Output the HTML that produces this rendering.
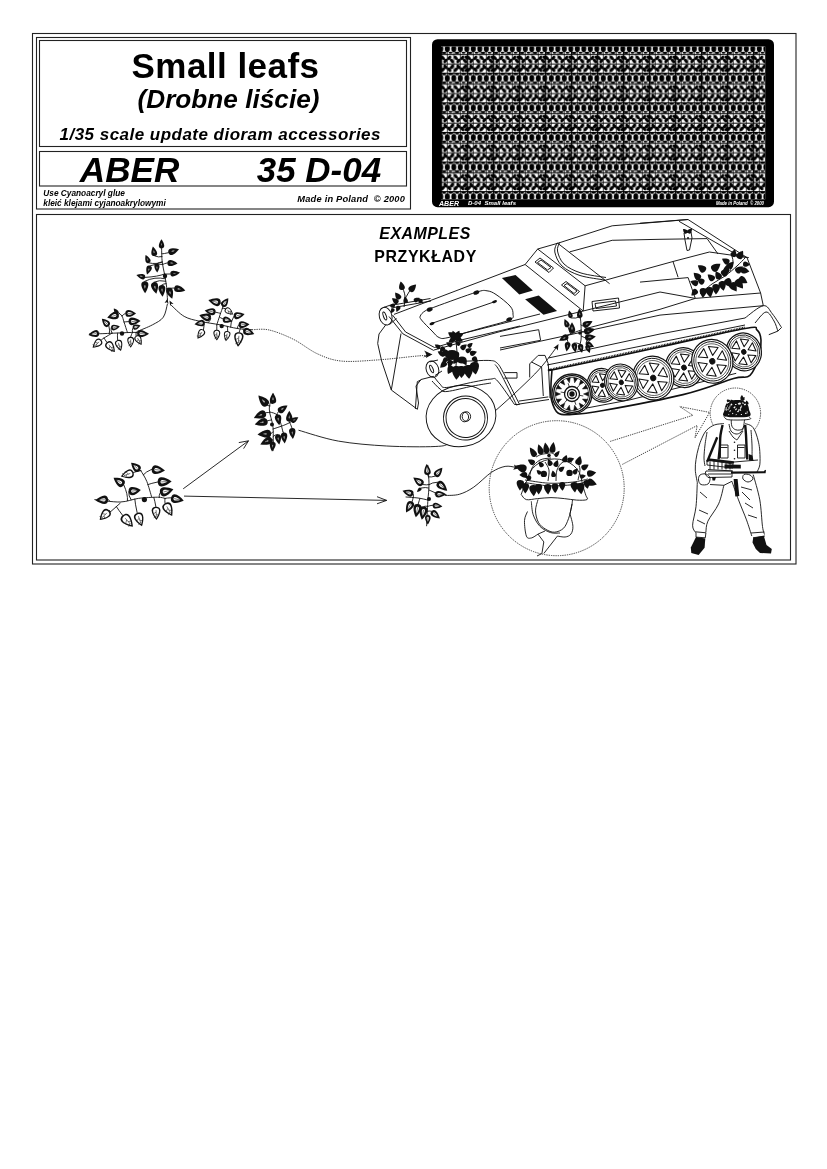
<!DOCTYPE html>
<html><head><meta charset="utf-8">
<style>
html,body{margin:0;padding:0;background:#fff;}
body{width:827px;height:1169px;overflow:hidden;position:relative;}
svg{position:absolute;left:0;top:0;filter:grayscale(1);}
text{font-family:"Liberation Sans",sans-serif;font-weight:bold;}
</style></head>
<body>
<svg width="827" height="1169" viewBox="0 0 827 1169">
<defs>
<pattern id="fp" patternUnits="userSpaceOnUse" x="440.8" y="43.1" width="26" height="29.6">
<g fill="#000">
<rect x="0" y="0" width="26" height="1.1"/>
<rect x="0" y="11" width="26" height="1"/>
<rect x="0" y="20.4" width="26" height="1"/>
<rect x="0" y="0" width="1.3" height="29.6"/>
<rect x="6.15" y="0" width="0.7" height="29.6"/>
<rect x="12.65" y="0" width="0.7" height="29.6"/>
<rect x="19.15" y="0" width="0.7" height="29.6"/>
<ellipse cx="0" cy="5.6" rx="2.55" ry="3.3"/>
<ellipse cx="6.5" cy="5.6" rx="2.55" ry="3.3"/>
<ellipse cx="13" cy="5.6" rx="2.55" ry="3.3"/>
<ellipse cx="19.5" cy="5.6" rx="2.55" ry="3.3"/>
<ellipse cx="26" cy="5.6" rx="2.55" ry="3.3"/>
<ellipse cx="3.25" cy="9.8" rx="2.5" ry="1.1"/>
<ellipse cx="16.25" cy="9.8" rx="2.5" ry="1.1"/>
<ellipse cx="9.75" cy="1.5" rx="2.4" ry="1.1"/>
<ellipse cx="22.75" cy="1.5" rx="2.4" ry="1.1"/>
<ellipse cx="2.00" cy="14.80" rx="1.6" ry="2.6" transform="rotate(-40 2.00 14.80)"/>
<ellipse cx="4.60" cy="17.80" rx="1.6" ry="2.6" transform="rotate(40 4.60 17.80)"/>
<ellipse cx="2.00" cy="26.60" rx="1.6" ry="2.6" transform="rotate(40 2.00 26.60)"/>
<ellipse cx="4.60" cy="23.80" rx="1.6" ry="2.6" transform="rotate(-40 4.60 23.80)"/>
<ellipse cx="8.50" cy="14.80" rx="1.6" ry="2.6" transform="rotate(40 8.50 14.80)"/>
<ellipse cx="11.10" cy="17.80" rx="1.6" ry="2.6" transform="rotate(-40 11.10 17.80)"/>
<ellipse cx="8.50" cy="26.60" rx="1.6" ry="2.6" transform="rotate(-40 8.50 26.60)"/>
<ellipse cx="11.10" cy="23.80" rx="1.6" ry="2.6" transform="rotate(40 11.10 23.80)"/>
<ellipse cx="15.00" cy="14.80" rx="1.6" ry="2.6" transform="rotate(-40 15.00 14.80)"/>
<ellipse cx="17.60" cy="17.80" rx="1.6" ry="2.6" transform="rotate(40 17.60 17.80)"/>
<ellipse cx="15.00" cy="26.60" rx="1.6" ry="2.6" transform="rotate(40 15.00 26.60)"/>
<ellipse cx="17.60" cy="23.80" rx="1.6" ry="2.6" transform="rotate(-40 17.60 23.80)"/>
<ellipse cx="21.50" cy="14.80" rx="1.6" ry="2.6" transform="rotate(40 21.50 14.80)"/>
<ellipse cx="24.10" cy="17.80" rx="1.6" ry="2.6" transform="rotate(-40 24.10 17.80)"/>
<ellipse cx="21.50" cy="26.60" rx="1.6" ry="2.6" transform="rotate(-40 21.50 26.60)"/>
<ellipse cx="24.10" cy="23.80" rx="1.6" ry="2.6" transform="rotate(40 24.10 23.80)"/>
<ellipse cx="26.00" cy="14.80" rx="1.6" ry="2.6" transform="rotate(-40 26.00 14.80)"/>
<ellipse cx="26.00" cy="26.60" rx="1.6" ry="2.6" transform="rotate(40 26.00 26.60)"/>
<ellipse cx="3.25" cy="1.7" rx="2.0" ry="1.0"/><ellipse cx="16.25" cy="1.7" rx="2.0" ry="1.0"/><ellipse cx="9.75" cy="9.7" rx="2.0" ry="1.0"/><ellipse cx="22.75" cy="9.7" rx="2.0" ry="1.0"/></g>
</pattern>
</defs>
<!-- frames -->
<g fill="none" stroke="#222" stroke-width="1.1">
<rect x="32.5" y="33.5" width="763.5" height="530.5"/>
<rect x="36.5" y="37.5" width="374" height="171.5"/>
<rect x="39.5" y="40.5" width="367" height="106"/>
<rect x="39.5" y="151.5" width="367" height="34.5"/>
<rect x="36.5" y="214.5" width="754" height="345.5"/>
</g>
<!-- title texts -->
<text x="131.5" y="77.6" font-size="35" textLength="187.5" lengthAdjust="spacing">Small leafs</text>
<text x="137.5" y="107.9" font-size="26.3" font-style="italic" textLength="182" lengthAdjust="spacingAndGlyphs">(Drobne liście)</text>
<text x="59.5" y="140.4" font-size="17" font-style="italic" textLength="321" lengthAdjust="spacing">1/35 scale update dioram accessories</text>
<text x="79.8" y="182.2" font-size="35.5" font-style="italic" textLength="99.5" lengthAdjust="spacingAndGlyphs">ABER</text>
<text x="256.8" y="182.2" font-size="35.5" font-style="italic" textLength="124.3" lengthAdjust="spacingAndGlyphs">35 D-04</text>
<text x="43.3" y="196.1" font-size="8.3" font-style="italic" textLength="81.6" lengthAdjust="spacingAndGlyphs">Use Cyanoacryl glue</text>
<text x="43.3" y="205.6" font-size="8.3" font-style="italic" textLength="122.4" lengthAdjust="spacingAndGlyphs">kleić klejami cyjanoakrylowymi</text>
<text x="297.3" y="201.6" font-size="9.3" font-style="italic" textLength="107.6" lengthAdjust="spacing">Made in Poland&#160; © 2000</text>
<text x="379.3" y="238.6" font-size="15.9" font-style="italic" textLength="91" lengthAdjust="spacing">EXAMPLES</text>
<text x="374.3" y="261.6" font-size="15.9" textLength="102" lengthAdjust="spacing">PRZYKŁADY</text>
<!-- fret -->
<g id="fret">
<rect x="432" y="39.2" width="342" height="168" rx="5.5" fill="#000"/>
<rect x="441" y="46.5" width="324.2" height="152.8" fill="#fff"/>
<rect x="441" y="46.5" width="324.2" height="152.8" fill="url(#fp)"/>
<text x="439" y="205.6" font-size="8" font-style="italic" fill="#fff" textLength="20" lengthAdjust="spacingAndGlyphs">ABER</text>
<text x="468" y="205.4" font-size="6" font-style="italic" fill="#fff" textLength="48" lengthAdjust="spacingAndGlyphs">D-04&#160; Small leafs</text>
<text x="716" y="205" font-size="5" font-style="italic" fill="#fff" textLength="48" lengthAdjust="spacingAndGlyphs">Made in Poland&#160; © 2000</text>
</g>
<!--ILLU-->
<g fill="none" stroke="#111" stroke-width="0.9" stroke-linecap="round"><path d="M161.6,248.5C161.7,250.8 161.7,257.8 162.2,262.0C162.7,266.2 163.8,270.0 164.5,274.0C165.2,278.0 166.0,281.7 166.5,286.0C167.0,290.3 167.3,297.7 167.5,300.0"/><path d="M161.8,253.9Q164.0,253.7 168.4,252.7"/><path d="M162.0,256.6Q158.6,257.6 154.8,256.0"/><path d="M162.2,262.0Q156.6,264.6 149.0,262.9"/><path d="M162.7,264.4Q164.1,263.6 167.4,262.9"/><path d="M162.7,264.4Q157.1,262.9 150.0,265.8"/><path d="M162.2,262.0Q159.5,261.9 156.8,263.8"/><path d="M164.5,274.0Q166.4,274.1 170.3,274.0"/><path d="M164.5,274.0Q158.2,276.6 145.1,277.4"/><path d="M165.3,278.8Q154.9,276.3 144.7,281.3"/><path d="M165.7,281.2Q159.3,279.6 153.8,282.2"/><path d="M166.1,283.6Q163.8,283.5 161.6,285.1"/><path d="M166.7,288.8Q167.4,288.1 168.4,288.0"/><path d="M166.7,288.8Q169.1,288.1 174.2,288.0"/><path d="M89.4,334.0C91.8,333.9 99.3,333.8 104.0,333.6C108.7,333.4 112.2,333.2 117.6,333.0C122.9,332.8 131.0,332.3 136.1,332.4C141.2,332.5 146.1,333.3 148.1,333.5"/><path d="M127.4,332.4C126.8,330.7 124.9,324.7 124.0,322.0C123.1,319.3 122.9,317.5 122.0,316.0C121.1,314.5 119.2,313.3 118.7,312.8"/><path d="M137.0,331.5C139.6,330.4 148.1,327.2 152.5,324.8C156.9,322.4 160.8,320.7 163.3,317.2C165.8,313.7 166.7,306.2 167.4,304.0"/><path d="M112.0,333.2C110.7,334.0 105.8,336.9 104.0,338.0C102.2,339.1 101.8,339.7 101.3,340.0"/><path d="M98.2,333.8Q98.8,333.3 99.0,333.0"/><path d="M104.0,338.0Q104.8,339.4 106.8,342.2"/><path d="M117.6,333.0Q117.2,335.3 117.6,340.0"/><path d="M132.4,332.5Q131.6,333.8 130.7,336.8"/><path d="M136.1,332.4Q135.8,333.5 136.1,335.7"/><path d="M136.1,332.4Q136.4,332.9 137.2,333.5"/><path d="M109.4,333.4Q110.1,330.6 108.9,326.0"/><path d="M112.0,333.2Q110.6,330.8 111.1,328.0"/><path d="M119.4,313.4Q119.2,313.9 118.7,314.5"/><path d="M118.7,312.8Q118.3,313.3 117.6,313.4"/><path d="M122.0,316.0Q122.9,314.7 125.3,313.4"/><path d="M124.0,322.0Q125.4,321.8 128.5,321.6"/><path d="M132.4,332.5Q131.9,330.5 132.9,328.0"/><path d="M171.0,305.0C173.2,306.9 179.4,313.7 184.2,316.4C189.0,319.1 193.8,319.9 199.9,321.3C206.0,322.7 214.2,323.7 220.5,324.9C226.8,326.1 232.2,327.7 237.4,328.5C242.6,329.3 249.5,329.5 251.9,329.7"/><path d="M216.8,324.9C217.3,323.2 219.0,318.0 220.0,315.0C221.0,312.0 222.2,309.0 222.9,306.8C223.6,304.6 223.9,302.8 224.1,302.0"/><path d="M223.6,303.9Q222.6,303.6 220.5,303.1"/><path d="M222.9,306.8Q222.5,306.6 222.3,306.2"/><path d="M220.6,313.4Q219.0,312.9 215.6,312.2"/><path d="M222.3,308.4Q223.4,308.2 225.3,308.6"/><path d="M230.6,327.1Q230.3,322.2 233.8,316.4"/><path d="M208.1,322.7Q210.4,320.8 210.8,318.3"/><path d="M219.4,317.0Q220.4,317.8 222.9,318.9"/><path d="M204.0,322.0Q204.5,322.2 204.7,322.5"/><path d="M237.4,328.5Q237.3,326.7 238.6,324.9"/><path d="M243.2,329.0Q243.1,329.6 243.4,330.3"/><path d="M204.0,322.0Q204.5,324.7 203.5,329.7"/><path d="M216.8,324.9Q216.8,326.4 216.8,329.7"/><path d="M227.3,326.3Q227.6,327.8 227.7,331.0"/><path d="M240.3,328.7Q239.8,329.8 239.2,332.2"/><path d="M94.8,499.6C99.0,500.0 112.9,502.2 120.2,502.0C127.5,501.8 132.2,499.2 138.4,498.4C144.7,497.6 153.3,497.2 157.7,497.2C162.1,497.2 163.8,498.2 165.0,498.4"/><path d="M120.2,503.2L110.6,511.7"/><path d="M151.7,497.2C150.9,494.6 148.6,485.8 146.8,481.4C145.0,477.0 141.8,472.4 140.8,470.6"/><path d="M110.0,501.0Q109.5,500.3 108.1,499.6"/><path d="M110.6,511.7Q110.2,510.9 109.3,510.5"/><path d="M116.4,506.6Q118.2,509.5 122.6,515.3"/><path d="M134.8,499.1Q135.1,503.6 137.2,512.9"/><path d="M153.8,497.4Q154.8,500.4 155.9,506.8"/><path d="M165.0,498.4Q164.6,500.0 165.0,503.2"/><path d="M165.0,498.4Q166.9,497.9 171.0,497.8"/><path d="M159.2,497.4Q158.8,495.4 160.1,492.9"/><path d="M147.8,484.6Q150.9,483.4 157.7,482.0"/><path d="M143.2,474.9Q145.6,471.9 151.7,469.3"/><path d="M140.8,470.6Q140.4,470.7 139.6,470.6"/><path d="M140.8,470.6Q138.4,471.1 133.5,472.4"/><path d="M127.5,500.6Q128.0,494.5 123.9,485.1"/><path d="M131.1,499.8Q128.4,496.0 128.7,491.7"/><path d="M273.0,394.0C272.4,396.5 269.3,403.5 269.3,409.0C269.3,414.5 272.4,420.2 273.0,427.2C273.6,434.1 273.0,446.8 273.0,450.7"/><path d="M273.0,429.0C274.8,428.4 280.8,426.5 283.8,425.3C286.8,424.1 289.3,422.9 291.1,421.7C292.9,420.5 294.1,418.6 294.7,418.0"/><path d="M270.0,412.0C271.3,412.7 275.8,412.7 278.0,416.0C280.2,419.3 282.2,429.3 283.0,432.0"/><path d="M270.0,406.0Q269.1,406.0 267.5,405.4"/><path d="M270.8,403.0Q271.9,403.7 273.0,403.6"/><path d="M270.0,412.6Q268.6,412.3 265.7,412.7"/><path d="M276.4,415.2Q276.8,413.9 278.4,411.7"/><path d="M271.5,419.9Q270.2,420.2 267.5,420.8"/><path d="M276.4,415.2Q276.9,414.6 277.5,414.5"/><path d="M289.6,422.4Q289.5,422.2 289.3,421.7"/><path d="M273.0,431.9Q272.5,432.7 271.1,433.5"/><path d="M273.0,441.3Q272.9,440.0 272.0,439.0"/><path d="M273.0,436.6Q275.1,434.6 277.5,434.4"/><path d="M283.0,432.0Q283.4,432.1 283.8,432.6"/><path d="M289.6,422.4Q290.7,424.2 292.0,428.1"/><path d="M427.8,465.3C428.0,468.5 429.0,478.6 429.0,484.6C429.0,490.7 428.2,494.7 427.8,501.6C427.4,508.5 426.8,521.8 426.6,525.8"/><path d="M429.0,490.0C430.8,490.8 437.2,493.8 440.0,494.5C442.8,495.2 445.0,494.5 446.0,494.5"/><path d="M428.0,500.0C426.3,499.7 421.7,498.5 418.0,498.0C414.3,497.5 408.0,497.2 406.0,497.0"/><path d="M428.5,476.9Q428.2,476.3 427.8,475.0"/><path d="M428.5,476.9Q431.0,477.4 435.1,476.2"/><path d="M429.0,484.6Q426.9,485.2 423.0,484.6"/><path d="M429.0,484.6Q432.1,482.4 437.5,482.2"/><path d="M413.2,497.6Q413.8,496.1 413.3,494.3"/><path d="M435.6,492.7Q435.0,493.5 435.1,494.3"/><path d="M413.2,497.6Q413.0,498.9 412.1,501.6"/><path d="M420.0,498.4Q419.3,500.2 418.2,504.0"/><path d="M427.6,506.4Q426.0,505.8 424.2,506.4"/><path d="M427.6,506.4Q429.2,505.7 432.7,505.2"/><path d="M427.3,511.3Q428.8,510.7 431.5,511.2"/><path d="M427.1,516.1Q427.4,515.3 427.8,514.9"/><path d="M428.8,488.0Q425.9,487.0 421.0,488.0"/><path d="M579.5,311.0C579.8,313.3 580.8,320.2 581.0,325.0C581.2,329.8 581.5,335.8 581.0,340.0C580.5,344.2 578.5,348.3 578.0,350.0"/><path d="M581.0,330.0C578.8,330.8 571.2,333.7 568.0,335.0C564.8,336.3 563.0,337.5 562.0,338.0"/><path d="M581.0,336.0L590.0,340.0"/><path d="M570.6,334.0Q569.8,331.7 568.0,327.0"/><path d="M580.1,316.6Q576.0,318.9 571.0,318.0"/><path d="M580.1,316.6Q580.1,317.6 580.0,318.0"/><path d="M581.0,325.0Q581.6,325.7 583.0,326.0"/><path d="M581.0,331.0Q581.9,331.6 584.0,332.0"/><path d="M588.2,339.2Q586.4,340.7 586.0,343.0"/><path d="M568.0,335.0Q568.2,335.4 568.0,336.0"/><path d="M573.2,333.0Q572.6,333.2 572.0,333.0"/><path d="M565.6,336.2Q567.0,338.0 568.0,342.0"/><path d="M579.8,344.0Q576.8,342.5 574.0,343.0"/><path d="M590.0,340.0Q588.2,341.5 587.0,345.0"/></g>
<g fill="#111"><path d="M161.6,248.4C166.2,248.1 163.9,242.6 161.4,239.2C159.0,242.7 157.0,248.3 161.6,248.4Z"/><path d="M168.4,252.7C170.3,258.0 175.9,253.4 179.0,249.3C174.1,247.8 166.9,247.3 168.4,252.7Z"/><path d="M154.8,256.0C159.6,254.9 156.2,249.5 152.9,246.4C151.1,250.5 149.9,256.8 154.8,256.0Z"/><path d="M149.0,262.9C152.9,261.0 149.0,257.2 145.6,255.1C144.8,259.0 145.0,264.5 149.0,262.9Z"/><path d="M167.4,262.9C167.3,268.0 173.5,265.9 177.5,263.4C173.8,260.5 167.9,257.8 167.4,262.9Z"/><path d="M150.0,265.8C145.6,264.5 145.8,270.4 147.0,274.5C150.4,272.0 154.3,267.5 150.0,265.8Z"/><path d="M156.8,263.8C152.4,264.2 154.7,269.4 157.2,272.6C159.4,269.2 161.2,263.8 156.8,263.8Z"/><path d="M170.3,274.0C171.2,278.9 176.7,275.7 180.0,272.6C175.9,270.6 169.8,269.1 170.3,274.0Z"/><path d="M145.1,277.4C146.1,273.0 140.3,273.6 136.4,275.0C139.1,278.2 143.7,281.7 145.1,277.4Z"/><path d="M144.7,281.3C138.7,281.7 141.8,288.8 145.1,293.3C148.1,288.6 150.8,281.3 144.7,281.3Z"/><path d="M153.8,282.2C148.0,283.7 152.3,290.1 156.3,293.8C158.4,288.7 159.7,281.2 153.8,282.2Z"/><path d="M161.6,285.1C155.8,285.8 159.2,292.6 162.6,296.7C165.3,292.0 167.5,284.8 161.6,285.1Z"/><path d="M168.4,288.0C163.1,290.1 167.9,295.6 172.2,298.7C173.6,293.6 173.9,286.3 168.4,288.0Z"/><path d="M174.2,288.0C173.2,293.6 180.4,292.4 185.3,290.4C181.7,286.6 175.6,282.5 174.2,288.0Z"/><circle cx="165" cy="276" r="2.2"/><path d="M99.0,333.0C97.7,327.3 91.9,331.2 88.5,335.0C93.1,337.2 99.9,338.8 99.0,333.0Z"/><path d="M101.3,340.0C96.9,335.4 93.7,342.3 92.6,347.7C98.1,347.3 105.3,344.9 101.3,340.0Z"/><path d="M106.8,342.2C101.6,346.8 109.0,350.6 114.9,352.0C114.6,346.0 112.3,338.0 106.8,342.2Z"/><path d="M117.6,340.0C111.7,342.0 116.5,347.8 120.9,351.0C122.8,345.9 123.7,338.4 117.6,340.0Z"/><path d="M130.7,336.8C124.8,337.0 127.6,343.6 130.7,347.7C133.8,343.6 136.6,337.0 130.7,336.8Z"/><path d="M136.1,335.7C131.1,338.9 136.9,343.0 141.6,345.0C142.2,339.9 141.3,332.9 136.1,335.7Z"/><path d="M137.2,333.5C137.2,339.8 144.2,337.1 148.7,334.0C144.5,330.5 137.7,327.3 137.2,333.5Z"/><path d="M108.9,326.0C112.7,322.0 106.6,319.5 101.9,318.8C102.5,323.5 104.8,329.7 108.9,326.0Z"/><path d="M111.1,328.0C112.1,332.7 116.9,329.6 119.8,326.5C116.1,324.6 110.5,323.2 111.1,328.0Z"/><path d="M118.7,314.5C116.7,308.4 110.7,313.2 107.3,317.7C112.5,319.7 120.2,320.8 118.7,314.5Z"/><path d="M117.6,313.4C120.2,311.2 116.6,309.3 113.8,308.5C113.8,311.4 114.9,315.4 117.6,313.4Z"/><path d="M125.3,313.4C125.5,319.3 132.0,316.5 136.1,313.4C132.0,310.3 125.5,307.5 125.3,313.4Z"/><path d="M128.5,321.6C129.1,328.1 136.1,324.6 140.5,321.0C135.8,317.8 128.4,315.1 128.5,321.6Z"/><path d="M132.9,328.0C134.5,332.1 138.4,328.6 140.5,325.4C136.9,324.2 131.6,323.8 132.9,328.0Z"/><circle cx="122" cy="333.5" r="2.2"/><path d="M220.5,303.1C221.9,296.5 213.9,297.8 208.4,300.1C212.1,304.7 218.6,309.6 220.5,303.1Z"/><path d="M222.3,306.2C226.7,309.3 228.3,303.0 228.3,298.3C223.8,299.6 218.1,302.8 222.3,306.2Z"/><path d="M215.6,312.2C216.4,306.2 209.4,308.0 204.7,310.4C208.3,314.2 214.4,318.1 215.6,312.2Z"/><path d="M225.3,308.6C222.2,313.0 228.5,314.6 233.2,314.6C231.9,310.1 228.7,304.4 225.3,308.6Z"/><path d="M233.8,316.4C235.3,322.2 241.2,318.0 244.6,314.0C239.8,311.8 232.7,310.5 233.8,316.4Z"/><path d="M210.8,318.3C212.3,312.0 204.6,313.1 199.3,315.2C202.8,319.7 208.9,324.5 210.8,318.3Z"/><path d="M222.9,318.9C221.8,324.2 228.2,323.2 232.6,321.3C229.6,317.6 224.4,313.7 222.9,318.9Z"/><path d="M204.7,322.5C203.5,317.0 197.9,320.7 194.5,324.3C198.9,326.5 205.5,328.1 204.7,322.5Z"/><path d="M238.6,324.9C239.1,330.8 245.5,327.6 249.5,324.3C245.2,321.4 238.5,319.0 238.6,324.9Z"/><path d="M243.4,330.3C241.6,336.3 249.1,335.7 254.3,334.0C251.2,329.5 245.6,324.4 243.4,330.3Z"/><path d="M203.5,329.7C198.4,326.6 197.2,333.6 197.5,338.8C202.4,337.1 208.3,333.1 203.5,329.7Z"/><path d="M216.8,329.7C210.9,329.9 213.7,336.5 216.8,340.6C219.9,336.5 222.7,329.9 216.8,329.7Z"/><path d="M227.7,331.0C222.1,330.2 223.7,336.8 225.9,341.2C229.5,337.8 233.2,332.2 227.7,331.0Z"/><path d="M239.2,332.2C231.3,331.8 234.3,340.8 238.0,346.7C242.6,341.5 247.1,333.1 239.2,332.2Z"/><circle cx="221.7" cy="326.1" r="2.2"/><path d="M108.1,499.6C107.5,492.4 100.0,496.2 95.4,500.2C100.4,503.7 108.2,506.8 108.1,499.6Z"/><path d="M109.3,510.5C103.7,505.3 100.5,513.6 99.7,520.1C106.2,519.3 114.5,516.1 109.3,510.5Z"/><path d="M122.6,515.3C116.3,521.3 125.6,525.5 132.9,526.8C132.4,519.4 129.3,509.7 122.6,515.3Z"/><path d="M137.2,512.9C129.8,515.9 136.2,522.6 142.0,526.2C144.1,519.7 144.8,510.5 137.2,512.9Z"/><path d="M155.9,506.8C148.4,507.4 152.3,515.2 156.5,520.1C160.2,514.9 163.4,506.7 155.9,506.8Z"/><path d="M165.0,503.2C158.0,507.5 165.7,513.2 172.2,515.9C173.2,508.9 172.3,499.4 165.0,503.2Z"/><path d="M171.0,497.8C169.6,505.0 178.0,503.4 183.7,500.8C179.8,495.9 172.9,490.7 171.0,497.8Z"/><path d="M160.1,492.9C162.4,500.3 169.4,494.6 173.4,489.3C167.3,486.7 158.3,485.3 160.1,492.9Z"/><path d="M157.7,482.0C158.3,489.8 166.5,485.7 171.6,481.4C166.1,477.5 157.6,474.1 157.7,482.0Z"/><path d="M151.7,469.3C151.2,476.8 159.6,474.0 165.0,470.6C160.3,466.2 152.7,461.8 151.7,469.3Z"/><path d="M139.6,470.6C143.9,465.6 136.7,463.2 131.1,462.7C132.0,468.2 135.0,475.2 139.6,470.6Z"/><path d="M133.5,472.4C130.9,465.3 124.4,471.2 120.8,476.6C126.9,478.8 135.6,479.7 133.5,472.4Z"/><path d="M123.9,485.1C127.8,479.1 119.7,477.5 113.6,477.8C115.4,483.6 119.6,490.8 123.9,485.1Z"/><path d="M128.7,491.7C130.0,498.5 136.7,494.2 140.8,489.9C135.7,487.0 127.9,484.8 128.7,491.7Z"/><circle cx="144.4" cy="499.6" r="2.6"/><path d="M267.5,405.4C272.4,400.6 264.5,396.8 258.4,395.4C259.2,401.6 262.3,409.8 267.5,405.4Z"/><path d="M273.0,403.6C278.5,403.4 275.9,396.8 273.0,392.7C270.1,396.8 267.5,403.4 273.0,403.6Z"/><path d="M265.7,412.7C262.7,406.9 257.0,412.9 253.9,418.1C259.8,419.2 268.2,418.8 265.7,412.7Z"/><path d="M278.4,411.7C281.8,416.2 285.7,410.2 287.5,405.4C282.4,405.4 275.4,407.0 278.4,411.7Z"/><path d="M267.5,420.8C265.4,414.5 258.7,419.7 254.8,424.4C260.6,426.4 269.1,427.3 267.5,420.8Z"/><path d="M277.5,414.5C272.1,415.6 275.8,421.7 279.3,425.3C281.5,420.7 283.0,413.8 277.5,414.5Z"/><path d="M289.3,421.7C294.8,421.5 292.2,414.9 289.3,410.8C286.4,414.9 283.8,421.5 289.3,421.7Z"/><path d="M291.1,421.7C293.5,425.2 296.8,420.8 298.3,417.2C294.4,417.0 289.0,418.0 291.1,421.7Z"/><path d="M271.1,433.5C270.4,426.7 262.4,430.5 257.5,434.4C262.9,437.6 271.3,440.4 271.1,433.5Z"/><path d="M272.0,439.0C269.0,433.2 263.3,439.3 260.3,444.4C266.2,445.4 274.5,445.0 272.0,439.0Z"/><path d="M273.0,441.7C268.0,441.4 269.8,447.6 272.0,451.6C275.0,448.1 278.0,442.4 273.0,441.7Z"/><path d="M277.5,434.4C272.5,435.5 276.0,441.1 279.3,444.4C281.3,440.1 282.6,433.7 277.5,434.4Z"/><path d="M283.8,432.6C278.3,433.3 281.5,439.6 284.7,443.5C287.2,439.1 289.3,432.4 283.8,432.6Z"/><path d="M292.0,428.1C286.5,428.8 289.7,435.1 292.9,439.0C295.4,434.6 297.5,427.9 292.0,428.1Z"/><circle cx="272" cy="424.4" r="2.0"/><path d="M427.8,475.0C433.3,474.2 430.0,467.9 426.6,464.0C424.2,468.5 422.2,475.4 427.8,475.0Z"/><path d="M435.1,476.2C439.5,479.7 441.9,472.9 442.4,467.7C437.4,469.0 431.0,472.4 435.1,476.2Z"/><path d="M423.0,484.6C426.4,479.6 418.9,477.6 413.3,477.4C415.1,482.7 419.2,489.3 423.0,484.6Z"/><path d="M437.5,482.2C433.4,487.3 441.3,490.0 447.2,490.7C445.8,484.9 442.0,477.5 437.5,482.2Z"/><path d="M413.3,494.3C414.9,488.8 407.6,489.2 402.5,490.7C405.7,494.9 411.3,499.7 413.3,494.3Z"/><path d="M435.1,494.3C435.3,499.8 441.9,497.2 446.0,494.3C441.9,491.4 435.3,488.8 435.1,494.3Z"/><path d="M412.1,501.6C406.5,498.8 405.5,506.8 406.1,512.5C411.3,509.9 417.5,504.8 412.1,501.6Z"/><path d="M418.2,504.0C411.4,503.1 413.2,511.6 415.8,517.3C420.2,512.9 424.9,505.5 418.2,504.0Z"/><path d="M424.2,506.4C417.4,505.5 419.2,514.0 421.8,519.7C426.2,515.3 430.9,507.9 424.2,506.4Z"/><path d="M432.7,505.2C432.3,510.1 438.4,508.5 442.4,506.4C439.0,503.4 433.5,500.3 432.7,505.2Z"/><path d="M431.5,511.2C428.0,515.6 434.8,517.9 439.9,518.5C438.6,513.5 435.3,507.1 431.5,511.2Z"/><path d="M427.8,514.9C423.0,515.1 425.3,520.9 427.8,524.5C430.3,520.9 432.6,515.1 427.8,514.9Z"/><path d="M421.0,488.0C418.9,486.1 417.5,489.4 417.0,492.0C419.6,491.5 422.9,490.1 421.0,488.0Z"/><circle cx="429" cy="499" r="2.0"/><path d="M568.0,327.0C572.0,325.1 568.0,321.1 564.6,318.9C563.8,322.9 563.9,328.5 568.0,327.0Z"/><path d="M571.0,318.0C574.7,316.9 571.8,312.9 569.1,310.6C567.9,313.9 567.2,318.8 571.0,318.0Z"/><path d="M580.0,318.0C584.7,317.5 582.1,312.0 579.3,308.6C577.1,312.3 575.2,318.2 580.0,318.0Z"/><path d="M583.0,326.0C585.6,330.7 590.1,325.6 592.5,321.3C587.6,320.6 580.8,321.1 583.0,326.0Z"/><path d="M584.0,332.0C585.6,337.4 591.4,333.2 594.8,329.3C590.0,327.5 582.9,326.5 584.0,332.0Z"/><path d="M585.0,338.0C585.9,343.4 592.1,340.0 595.8,336.6C591.3,334.3 584.5,332.5 585.0,338.0Z"/><path d="M586.0,343.0C584.1,347.2 590.0,347.6 594.1,347.1C592.1,343.4 588.2,339.0 586.0,343.0Z"/><path d="M568.0,336.0C565.4,331.7 561.3,336.6 559.2,340.7C563.8,341.2 570.2,340.5 568.0,336.0Z"/><path d="M572.0,333.0C577.4,332.8 574.9,326.3 572.0,322.2C569.1,326.3 566.6,332.8 572.0,333.0Z"/><path d="M568.0,342.0C563.2,341.5 564.7,347.5 566.6,351.4C569.7,348.2 572.7,342.9 568.0,342.0Z"/><path d="M574.0,343.0C569.3,343.9 572.3,349.2 575.4,352.4C577.3,348.5 578.8,342.5 574.0,343.0Z"/><path d="M580.0,344.0C575.6,345.2 578.9,350.0 582.0,352.8C583.6,348.9 584.5,343.2 580.0,344.0Z"/><path d="M587.0,345.0C583.0,346.5 586.5,350.7 589.7,353.1C590.8,349.3 591.1,343.8 587.0,345.0Z"/><circle cx="580" cy="333" r="1.8"/></g>
<g fill="#fff"><path d="M161.5,245.6C162.4,245.6 161.9,243.8 161.5,242.7C161.1,243.8 160.7,245.6 161.5,245.6Z"/><path d="M171.6,251.7C171.9,252.6 173.8,251.5 175.0,250.6C173.5,250.5 171.3,250.7 171.6,251.7Z"/><path d="M154.2,253.1C155.1,252.9 154.3,251.1 153.6,250.0C153.4,251.3 153.4,253.2 154.2,253.1Z"/><path d="M148.0,260.6C148.7,260.2 147.7,258.9 146.9,258.1C146.9,259.2 147.3,260.8 148.0,260.6Z"/><path d="M170.4,263.0C170.5,263.9 172.4,263.6 173.7,263.2C172.5,262.7 170.5,262.2 170.4,263.0Z"/><path d="M149.1,268.4C148.3,268.2 148.1,270.0 148.1,271.2C148.9,270.3 149.9,268.7 149.1,268.4Z"/><path d="M156.9,266.4C156.1,266.5 156.6,268.2 157.0,269.3C157.4,268.2 157.7,266.5 156.9,266.4Z"/><path d="M173.2,273.6C173.4,274.4 175.2,273.8 176.3,273.1C175.1,272.9 173.1,272.7 173.2,273.6Z"/><path d="M142.5,276.7C142.6,275.9 140.9,275.8 139.7,275.9C140.7,276.6 142.2,277.4 142.5,276.7Z"/><path d="M144.8,284.9C143.8,285.0 144.3,287.3 144.9,288.7C145.5,287.3 145.9,284.9 144.8,284.9Z"/><path d="M154.6,285.7C153.5,286.0 154.5,288.1 155.4,289.4C155.6,287.9 155.6,285.5 154.6,285.7Z"/><path d="M161.9,288.6C160.9,288.7 161.6,290.9 162.2,292.3C162.6,290.8 162.9,288.6 161.9,288.6Z"/><path d="M169.5,291.2C168.6,291.6 169.8,293.5 170.8,294.6C170.8,293.2 170.5,290.9 169.5,291.2Z"/><path d="M177.5,288.7C177.4,289.7 179.6,289.7 181.1,289.5C179.8,288.7 177.8,287.8 177.5,288.7Z"/><path d="M96.9,333.4C96.4,331.2 93.3,332.9 91.4,334.4C93.7,335.2 97.2,335.6 96.9,333.4Z"/><path d="M100.4,340.8C97.4,337.7 94.9,342.6 94.0,346.5C97.9,346.0 103.2,344.1 100.4,340.8Z"/><path d="M107.6,343.2C104.1,346.3 109.4,349.2 113.6,350.4C113.2,346.1 111.4,340.3 107.6,343.2Z"/><path d="M117.9,341.1C113.9,342.5 117.3,346.8 120.4,349.2C121.6,345.5 122.1,340.0 117.9,341.1Z"/><path d="M130.7,337.9C126.7,338.1 128.6,342.9 130.7,346.0C132.8,342.9 134.7,338.1 130.7,337.9Z"/><path d="M136.7,336.6C133.3,338.8 137.4,342.0 140.7,343.5C141.0,339.8 140.2,334.7 136.7,336.6Z"/><path d="M139.5,333.6C139.5,336.0 143.2,335.0 145.5,333.9C143.3,332.5 139.7,331.2 139.5,333.6Z"/><path d="M107.5,324.6C109.0,323.0 106.0,321.5 103.9,320.8C104.4,323.0 105.9,326.0 107.5,324.6Z"/><path d="M112.8,327.7C113.2,329.5 115.8,328.2 117.4,326.9C115.5,326.2 112.6,325.8 112.8,327.7Z"/><path d="M116.4,315.1C115.6,312.8 112.4,314.9 110.5,316.8C113.1,317.4 117.0,317.6 116.4,315.1Z"/><path d="M127.5,313.4C127.6,315.7 130.9,314.6 133.1,313.4C130.9,312.2 127.6,311.1 127.5,313.4Z"/><path d="M130.9,321.5C131.2,324.0 134.8,322.6 137.1,321.2C134.7,320.0 130.9,318.9 130.9,321.5Z"/><path d="M134.4,327.5C135.1,329.1 137.2,327.5 138.4,326.1C136.6,325.8 133.9,325.8 134.4,327.5Z"/><path d="M218.1,302.5C218.6,299.9 214.5,300.2 211.8,300.9C213.8,302.9 217.3,305.0 218.1,302.5Z"/><path d="M223.5,304.6C225.2,305.8 226.3,302.7 226.6,300.5C224.6,301.4 221.9,303.3 223.5,304.6Z"/><path d="M213.4,311.8C213.7,309.5 210.1,310.0 207.8,310.9C209.7,312.5 212.9,314.1 213.4,311.8Z"/><path d="M226.1,309.2C224.0,312.2 228.5,313.5 231.9,313.6C230.9,310.4 228.4,306.4 226.1,309.2Z"/><path d="M236.0,315.9C236.6,318.2 239.7,316.3 241.6,314.7C239.2,313.9 235.6,313.6 236.0,315.9Z"/><path d="M208.5,317.7C209.0,315.2 205.1,315.4 202.5,316.1C204.4,318.0 207.7,320.1 208.5,317.7Z"/><path d="M224.8,319.4C224.4,321.5 227.7,321.2 229.9,320.6C228.2,319.1 225.5,317.3 224.8,319.4Z"/><path d="M202.7,322.9C202.2,320.7 199.2,322.3 197.4,323.8C199.6,324.6 202.9,325.0 202.7,322.9Z"/><path d="M240.8,324.8C241.0,327.1 244.4,325.8 246.4,324.5C244.2,323.4 240.8,322.5 240.8,324.8Z"/><path d="M245.6,331.0C244.9,333.4 248.7,333.4 251.2,333.0C249.5,331.0 246.5,328.8 245.6,331.0Z"/><path d="M202.9,330.6C199.4,328.5 198.4,333.6 198.5,337.3C201.9,335.9 206.2,333.0 202.9,330.6Z"/><path d="M216.8,330.8C212.8,331.0 214.7,335.8 216.8,338.9C218.9,335.8 220.8,331.0 216.8,330.8Z"/><path d="M227.5,332.0C223.7,331.5 224.7,336.4 226.2,339.6C228.7,337.0 231.3,332.8 227.5,332.0Z"/><path d="M239.1,333.6C233.7,333.4 235.7,340.1 238.2,344.4C241.3,340.5 244.4,334.3 239.1,333.6Z"/><path d="M105.6,499.7C105.3,496.9 101.4,498.4 99.0,500.0C101.5,501.4 105.6,502.5 105.6,499.7Z"/><path d="M108.3,511.5C104.5,507.9 102.0,513.9 101.2,518.6C105.9,517.8 111.9,515.3 108.3,511.5Z"/><path d="M123.6,516.4C119.4,520.6 126.0,523.8 131.3,525.0C130.7,519.7 128.2,512.7 123.6,516.4Z"/><path d="M137.7,514.2C132.6,516.3 137.2,521.3 141.2,524.1C142.6,519.4 142.9,512.6 137.7,514.2Z"/><path d="M156.0,508.1C150.9,508.6 153.6,514.4 156.4,518.0C158.9,514.1 161.1,508.1 156.0,508.1Z"/><path d="M165.7,504.5C160.9,507.4 166.5,511.7 171.0,513.9C171.6,508.8 170.7,501.9 165.7,504.5Z"/><path d="M173.5,498.4C173.0,501.2 177.3,500.8 180.1,500.0C178.0,497.9 174.3,495.6 173.5,498.4Z"/><path d="M162.8,492.2C163.7,495.1 167.5,492.6 169.7,490.3C166.6,489.5 162.1,489.2 162.8,492.2Z"/><path d="M160.5,481.9C160.8,484.9 165.0,483.3 167.7,481.6C164.9,480.1 160.5,478.8 160.5,481.9Z"/><path d="M154.4,469.6C154.2,472.5 158.5,471.5 161.3,470.2C158.8,468.4 154.8,466.6 154.4,469.6Z"/><path d="M137.9,469.0C139.6,467.1 136.1,465.5 133.5,464.9C134.2,467.5 136.1,470.8 137.9,469.0Z"/><path d="M132.2,472.8C130.4,468.0 125.6,472.2 122.8,475.9C127.2,477.3 133.7,477.8 132.2,472.8Z"/><path d="M121.8,483.6C123.3,481.3 119.4,480.1 116.5,479.8C117.7,482.5 120.1,485.8 121.8,483.6Z"/><path d="M131.1,491.3C131.6,494.0 135.2,492.2 137.4,490.4C134.8,489.4 130.8,488.7 131.1,491.3Z"/><path d="M264.8,402.4C265.6,401.5 263.4,400.0 261.9,399.2C262.5,400.8 263.8,403.1 264.8,402.4Z"/><path d="M273.0,400.3C274.0,400.3 273.5,398.2 273.0,396.8C272.5,398.2 272.0,400.3 273.0,400.3Z"/><path d="M262.2,414.3C261.6,413.3 259.6,414.8 258.4,416.0C260.1,415.9 262.6,415.4 262.2,414.3Z"/><path d="M281.1,409.8C281.7,410.6 283.2,409.0 284.0,407.8C282.6,408.1 280.6,409.0 281.1,409.8Z"/><path d="M263.7,421.9C263.3,420.8 261.0,422.0 259.6,423.0C261.3,423.2 263.9,423.0 263.7,421.9Z"/><path d="M278.0,417.7C277.1,418.0 277.9,420.0 278.6,421.2C278.9,419.8 279.0,417.6 278.0,417.7Z"/><path d="M289.3,418.4C290.3,418.4 289.8,416.3 289.3,414.9C288.8,416.3 288.3,418.4 289.3,418.4Z"/><path d="M293.3,420.3C293.7,421.0 294.9,419.8 295.6,418.9C294.5,419.1 292.9,419.7 293.3,420.3Z"/><path d="M267.0,433.8C266.9,432.6 264.3,433.3 262.7,434.1C264.4,434.6 267.0,435.0 267.0,433.8Z"/><path d="M268.5,440.6C267.9,439.6 265.9,441.1 264.7,442.3C266.4,442.2 268.9,441.7 268.5,440.6Z"/><path d="M272.7,444.7C271.8,444.6 272.0,446.6 272.4,447.8C273.0,446.7 273.6,444.8 272.7,444.7Z"/><path d="M278.0,437.4C277.2,437.6 277.9,439.5 278.6,440.6C278.9,439.3 278.9,437.3 278.0,437.4Z"/><path d="M284.1,435.9C283.1,436.0 283.7,438.1 284.4,439.4C284.8,438.0 285.0,435.9 284.1,435.9Z"/><path d="M292.3,431.4C291.3,431.5 291.9,433.6 292.6,434.9C293.0,433.5 293.2,431.4 292.3,431.4Z"/><path d="M427.6,472.8C429.7,472.4 428.3,469.1 426.9,467.1C426.0,469.4 425.4,472.9 427.6,472.8Z"/><path d="M436.6,474.5C438.3,475.8 439.8,472.5 440.4,470.1C438.0,471.0 435.0,473.0 436.6,474.5Z"/><path d="M421.1,483.2C422.4,481.2 418.7,479.8 416.0,479.4C417.2,481.8 419.5,485.0 421.1,483.2Z"/><path d="M439.4,483.9C437.9,485.9 441.7,487.6 444.5,488.3C443.4,485.6 441.2,482.1 439.4,483.9Z"/><path d="M411.1,493.6C411.7,491.4 408.0,491.3 405.5,491.7C407.3,493.5 410.3,495.7 411.1,493.6Z"/><path d="M437.3,494.3C437.4,496.4 440.8,495.4 442.9,494.3C440.8,493.2 437.4,492.2 437.3,494.3Z"/><path d="M410.9,503.8C408.7,502.7 407.8,506.7 407.8,509.4C410.1,507.9 413.0,505.1 410.9,503.8Z"/><path d="M417.7,506.7C415.1,506.3 415.6,510.7 416.5,513.6C418.3,511.2 420.3,507.3 417.7,506.7Z"/><path d="M423.7,509.1C421.1,508.7 421.6,513.1 422.5,516.0C424.3,513.6 426.3,509.7 423.7,509.1Z"/><path d="M434.6,505.4C434.5,507.4 437.6,506.8 439.7,506.1C437.9,504.8 435.0,503.5 434.6,505.4Z"/><path d="M433.2,512.7C431.8,514.4 435.1,515.9 437.5,516.5C436.6,514.1 434.7,511.1 433.2,512.7Z"/><path d="M427.8,516.8C425.9,516.9 426.8,519.9 427.8,521.8C428.8,519.9 429.7,516.9 427.8,516.8Z"/><path d="M567.0,324.6C567.7,324.2 566.7,322.8 565.9,322.0C565.9,323.1 566.2,324.8 567.0,324.6Z"/><path d="M570.4,315.8C571.1,315.6 570.4,314.2 569.8,313.4C569.7,314.4 569.8,315.9 570.4,315.8Z"/><path d="M579.8,315.2C580.6,315.0 580.1,313.3 579.6,312.1C579.2,313.3 579.0,315.2 579.8,315.2Z"/><path d="M585.8,324.6C586.3,325.4 587.9,324.1 588.9,323.1C587.5,323.2 585.5,323.7 585.8,324.6Z"/><path d="M587.2,331.2C587.5,332.1 589.5,331.2 590.7,330.3C589.3,330.2 587.1,330.2 587.2,331.2Z"/><path d="M588.2,337.6C588.4,338.5 590.4,337.8 591.7,337.2C590.3,336.8 588.2,336.6 588.2,337.6Z"/><path d="M588.4,344.2C588.1,345.0 589.8,345.4 591.0,345.5C590.2,344.6 588.8,343.5 588.4,344.2Z"/><path d="M565.4,337.4C564.9,336.7 563.4,337.9 562.6,338.9C563.8,338.8 565.7,338.2 565.4,337.4Z"/><path d="M572.0,329.8C573.0,329.7 572.5,327.6 572.0,326.3C571.5,327.6 571.0,329.7 572.0,329.8Z"/><path d="M567.6,344.8C566.7,344.8 566.9,346.6 567.2,347.9C567.8,346.8 568.4,345.0 567.6,344.8Z"/><path d="M574.4,345.8C573.6,346.0 574.2,347.8 574.8,348.9C575.1,347.6 575.3,345.8 574.4,345.8Z"/><path d="M580.6,346.6C579.8,346.9 580.6,348.5 581.3,349.4C581.4,348.3 581.4,346.5 580.6,346.6Z"/><path d="M587.8,347.4C587.1,347.7 588.0,349.2 588.7,350.0C588.7,348.9 588.5,347.2 587.8,347.4Z"/></g>
<g stroke="#111" stroke-width="0.55" fill="none"><path d="M161.6,246.1L161.4,241.5"/><path d="M171.1,251.8L176.3,250.2"/><path d="M154.3,253.6L153.4,248.8"/><path d="M148.2,260.9L146.4,257.1"/><path d="M169.9,263.0L175.0,263.3"/><path d="M149.2,268.0L147.8,272.3"/><path d="M156.9,266.0L157.1,270.4"/><path d="M172.7,273.6L177.6,273.0"/><path d="M142.9,276.8L138.6,275.6"/><path d="M144.8,284.3L145.0,290.3"/><path d="M154.4,285.1L155.7,290.9"/><path d="M161.8,288.0L162.3,293.8"/><path d="M169.3,290.7L171.2,296.0"/><path d="M177.0,288.6L182.5,289.8"/><path d="M96.4,333.5L91.1,334.5"/><path d="M97.8,343.1L95.2,342.3"/><path d="M96.5,344.2L97.0,346.9"/><path d="M95.2,345.4L92.6,344.6"/><path d="M99.1,341.9L94.8,345.8"/><path d="M110.0,346.1L109.1,348.9"/><path d="M111.3,347.6L114.2,347.1"/><path d="M112.5,349.1L111.5,351.9"/><path d="M108.8,344.6L112.9,349.6"/><path d="M118.9,344.4L117.1,346.4"/><path d="M119.4,346.1L122.0,346.7"/><path d="M119.9,347.7L118.1,349.7"/><path d="M118.4,342.8L120.1,348.2"/><path d="M130.7,341.2L128.5,342.5"/><path d="M130.7,342.8L132.9,344.1"/><path d="M130.7,344.4L128.5,345.7"/><path d="M130.7,339.5L130.7,345.0"/><path d="M138.3,339.4L137.1,341.6"/><path d="M139.1,340.8L141.6,340.8"/><path d="M139.9,342.2L138.7,344.4"/><path d="M137.5,338.0L140.2,342.7"/><path d="M140.1,333.6L145.8,333.9"/><path d="M107.2,324.2L103.7,320.6"/><path d="M113.3,327.6L117.6,326.9"/><path d="M115.8,315.3L110.2,316.9"/><path d="M128.0,313.4L133.4,313.4"/><path d="M131.5,321.5L137.5,321.1"/><path d="M134.8,327.4L138.6,326.0"/><path d="M217.5,302.4L211.4,300.9"/><path d="M223.8,304.2L226.8,300.3"/><path d="M212.9,311.8L207.4,310.8"/><path d="M228.5,311.0L228.2,313.3"/><path d="M229.6,311.9L231.8,311.0"/><path d="M230.8,312.8L230.6,315.1"/><path d="M227.3,310.1L231.2,313.1"/><path d="M236.5,315.8L241.9,314.6"/><path d="M207.9,317.5L202.2,316.0"/><path d="M225.3,319.5L230.2,320.7"/><path d="M202.1,322.9L197.1,323.9"/><path d="M241.3,324.8L246.8,324.4"/><path d="M246.1,331.2L251.6,333.1"/><path d="M201.1,333.3L198.6,333.2"/><path d="M200.2,334.7L201.3,337.0"/><path d="M199.3,336.1L196.8,336.0"/><path d="M202.0,332.0L199.0,336.5"/><path d="M216.8,334.1L214.6,335.4"/><path d="M216.8,335.7L219.0,337.0"/><path d="M216.8,337.3L214.6,338.6"/><path d="M216.8,332.4L216.8,337.9"/><path d="M227.0,335.1L224.7,335.9"/><path d="M226.7,336.6L228.5,338.2"/><path d="M226.4,338.1L224.2,339.0"/><path d="M227.2,333.6L226.3,338.6"/><path d="M238.7,338.0L235.7,339.5"/><path d="M238.5,340.2L241.3,342.2"/><path d="M238.4,342.3L235.3,343.8"/><path d="M238.9,335.8L238.3,343.1"/><path d="M104.9,499.8L98.6,500.1"/><path d="M105.5,514.3L102.4,513.6"/><path d="M104.0,515.8L104.8,518.9"/><path d="M102.6,517.2L99.5,516.5"/><path d="M106.9,512.9L102.1,517.7"/><path d="M126.7,519.9L125.7,523.3"/><path d="M128.3,521.6L131.8,520.9"/><path d="M129.8,523.3L128.7,526.8"/><path d="M125.2,518.2L130.3,523.9"/><path d="M139.1,518.2L137.0,520.8"/><path d="M139.8,520.2L143.1,520.9"/><path d="M140.6,522.2L138.5,524.8"/><path d="M138.4,516.2L140.8,522.9"/><path d="M156.1,512.1L153.6,513.8"/><path d="M156.2,514.1L159.0,515.6"/><path d="M156.3,516.1L153.7,517.8"/><path d="M156.1,510.1L156.3,516.8"/><path d="M167.9,508.3L166.2,511.2"/><path d="M169.0,510.2L172.4,510.3"/><path d="M170.0,512.1L168.4,515.1"/><path d="M166.8,506.4L170.4,512.7"/><path d="M174.2,498.6L180.5,500.1"/><path d="M163.4,492.0L170.1,490.2"/><path d="M161.2,481.9L168.1,481.5"/><path d="M155.0,469.6L161.7,470.3"/><path d="M137.5,468.6L133.2,464.7"/><path d="M128.4,474.1L126.1,472.0"/><path d="M126.5,474.7L125.8,477.8"/><path d="M124.6,475.3L122.2,473.3"/><path d="M130.3,473.4L124.0,475.6"/><path d="M121.3,483.3L116.2,479.6"/><path d="M131.7,491.2L137.8,490.3"/><path d="M265.2,402.9L260.7,397.9"/><path d="M273.0,400.9L273.0,395.4"/><path d="M262.8,414.1L256.9,416.8"/><path d="M280.7,410.1L285.2,407.0"/><path d="M264.3,421.7L258.0,423.5"/><path d="M277.9,417.2L278.9,422.6"/><path d="M289.3,419.0L289.3,413.5"/><path d="M292.9,420.6L296.5,418.3"/><path d="M267.7,433.7L260.9,434.2"/><path d="M269.1,440.4L263.2,443.0"/><path d="M272.8,444.2L272.2,449.1"/><path d="M277.9,436.9L278.9,441.9"/><path d="M284.0,435.3L284.5,440.8"/><path d="M292.2,430.8L292.7,436.3"/><path d="M427.5,472.2L426.9,466.8"/><path d="M436.9,474.1L440.6,469.8"/><path d="M420.6,482.8L415.7,479.2"/><path d="M439.9,484.3L444.8,488.6"/><path d="M410.6,493.4L405.2,491.6"/><path d="M437.8,494.3L443.3,494.3"/><path d="M410.6,504.3L407.6,509.8"/><path d="M417.6,507.3L416.4,514.0"/><path d="M423.6,509.7L422.4,516.4"/><path d="M435.1,505.5L440.0,506.1"/><path d="M433.6,513.0L437.8,516.7"/><path d="M427.8,517.3L427.8,522.1"/><path d="M567.2,325.0L565.5,320.9"/><path d="M570.5,316.1L569.6,312.4"/><path d="M579.8,315.6L579.5,310.9"/><path d="M585.4,324.8L590.1,322.5"/><path d="M586.7,331.3L592.1,330.0"/><path d="M587.7,337.7L593.1,337.0"/><path d="M588.0,344.0L592.1,346.0"/><path d="M565.8,337.2L561.4,339.5"/><path d="M572.0,330.3L572.0,324.9"/><path d="M567.7,344.4L567.0,349.1"/><path d="M574.3,345.4L575.0,350.1"/><path d="M580.5,346.2L581.5,350.6"/><path d="M587.7,347.0L589.0,351.1"/></g>

<g fill="none" stroke="#111" stroke-width="0.9"><path d="M183.2,488.8L248.5,440.8"/><path d="M238.8,442.6L248.5,440.8L243.6,448.6"/><path d="M184.0,496.1L386.7,500.4"/><path d="M377,496.7L386.7,500.4L377,503.8"/><path d="M298.5,430.2C305.1,432.0 323.7,438.5 338.4,441.1C353.1,443.7 370.6,445.1 386.7,446.0C402.8,446.9 424.6,447.0 435.1,446.5C445.7,446.0 444.9,445.5 450.0,443.0C455.1,440.5 458.6,436.3 465.4,431.6C472.2,426.9 479.2,424.2 490.8,414.6C502.4,405.0 523.9,385.1 534.8,374.0C545.7,362.9 552.5,352.3 556.0,348.0"/><path d="M444.8,495.5C447.2,495.3 454.5,495.7 459.3,494.3C464.1,492.9 468.4,490.8 473.8,487.1C479.2,483.4 486.4,475.6 491.6,472.2C496.8,468.8 501.2,467.2 505.1,466.4C509.0,465.6 513.4,467.1 515.0,467.2"/></g>
<g fill="#111"><path d="M519.5,468.2L513.1,469.7L514.8,467.4L514.1,464.6Z"/><path d="M167.5,298.5L168.5,303.8L166.8,302.2L164.6,303.0Z"/><path d="M169.5,300.5L173.6,304.0L171.3,303.8L170.1,305.9Z"/><path d="M432.0,354.5L425.9,358.1L426.7,355.2L425.2,352.5Z"/><path d="M558.5,344.0L557.8,350.5L556.2,348.2L553.4,348.1Z"/></g>
<g fill="none" stroke="#222" stroke-width="0.85" stroke-dasharray="1.3,1.0"><path d="M252.0,329.7C254.9,329.8 262.3,328.4 269.2,330.0C276.1,331.6 285.3,335.3 293.4,339.3C301.5,343.3 309.6,350.3 317.6,353.9C325.7,357.5 331.6,360.1 341.7,361.1C351.8,362.1 365.9,360.7 378.0,359.9C390.1,359.1 406.1,357.1 414.3,356.3C422.5,355.5 424.9,355.5 427.0,355.3"/><circle cx="556.7" cy="488.2" r="67.5"/><circle cx="735.4" cy="413.2" r="25.2"/><path d="M610.2,441.4L692.9,415.3L679.8,406.6L709.6,412.4L695,437.8L697.2,425.5L621.8,464.7"/></g>
<g fill="#fff" stroke="none"><ellipse cx="385.6" cy="316.2" rx="6.3" ry="9.0" transform="rotate(-15 385.6 316.2)"/><ellipse cx="432.4" cy="369.2" rx="6.2" ry="8.3" transform="rotate(-18 432.4 369.2)"/><ellipse cx="461.0" cy="416.0" rx="35.0" ry="30.5" transform="rotate(-10 461.0 416.0)"/>M684.0,233.0 L691.0,232.0 L692.0,238.0 L689.5,250.0 L687.0,250.5 L685.0,240.0Z</g>
<g fill="none" stroke="#111" stroke-width="0.95" stroke-linejoin="round"><path d="M386.0,324.5 L379.0,334.0 L377.7,343.5 L381.6,360.9 L391.3,390.0 L417.4,409.3"/><path d="M401.0,333.5 L391.3,390.0"/><path d="M389.0,316.5 L402.9,333.8 L433.8,350.5"/><path d="M392.5,315.0 L405.6,332.0 L434.5,347.5"/><path d="M417.4,409.3 L418.5,403.0 L416.0,386.0 L421.0,379.5 L433.6,376.3"/><ellipse cx="385.6" cy="316.2" rx="6.3" ry="9.0" transform="rotate(-15 385.6 316.2)"/><path d="M384.0,307.3 L393.0,304.2"/><path d="M389.5,324.5 L396.5,318.5"/><ellipse cx="384.8" cy="316.0" rx="1.4" ry="4.2" transform="rotate(-20 384.8 316.0)"/><path d="M390.0,305.5 L430.5,298.5"/><path d="M391.0,308.0 L431.0,301.0"/><path d="M394.0,314.4 L525.1,264.5"/><path d="M420.3,316.0C420.9,314.5 422.4,312.6 425.0,311.0C427.6,309.4 427.5,309.6 436.0,306.5C444.5,303.4 467.5,294.9 476.0,292.3C484.5,289.7 483.7,290.4 487.0,290.8C490.3,291.2 492.2,292.0 496.0,294.5C499.8,297.0 507.2,302.8 510.0,306.0C512.8,309.2 513.1,311.7 513.0,314.0C512.9,316.3 515.0,317.6 509.5,320.0C504.0,322.4 490.2,325.6 480.0,328.5C469.8,331.4 454.8,336.1 448.0,337.6C441.2,339.1 441.7,338.6 439.0,337.5C436.3,336.4 434.9,333.9 432.0,331.0C429.1,328.1 423.4,322.5 421.5,320.0C419.6,317.5 419.7,317.5 420.3,316.0Z"/><path d="M430.5,323.8 L495.8,301.3"/><path d="M434.0,350.0 L500.0,331.6 L583.2,311.0"/><path d="M458.0,334.7 L540.0,314.0"/><path d="M434.5,347.5 L461.0,340.0 L520.0,326.0"/><path d="M525.1,264.5 L537.7,249.0 L558.0,243.2 L612.2,225.8 L660.0,221.9 L688.0,219.5"/><path d="M537.7,249.0 L585.1,285.8"/><path d="M525.1,264.5 L583.2,311.0"/><path d="M585.1,285.8 L583.2,311.0"/><path d="M569.6,251.9 L612.2,240.3 L660.0,239.3 L707.0,238.6"/><path d="M557.0,243.0C556.6,244.5 554.0,248.2 554.8,252.0C555.6,255.8 557.8,262.1 562.0,266.0C566.2,269.9 572.9,273.2 580.0,275.5C587.1,277.8 600.4,279.2 604.5,280.0"/><path d="M559.5,242.5C559.2,243.9 556.8,247.4 557.5,251.0C558.2,254.6 560.1,260.3 564.0,264.0C567.9,267.7 574.0,270.8 581.0,273.0C588.0,275.2 601.8,276.8 606.0,277.5"/><path d="M557.4,243.0 L609.6,283.7"/><path d="M585.1,285.8 L673.0,261.5 L709.4,252.0 L748.8,257.6"/><path d="M673.0,261.5 L678.1,277.3"/><path d="M640.0,282.1 L688.1,277.6 L695.3,298.4"/><path d="M707.1,238.6 L718.0,254.0"/><path d="M535.0,262.0 L540.0,258.0 L553.5,268.0 L549.0,272.5Z"/><path d="M537.5,262.5 L541.0,260.0 L551.0,267.5 L547.5,270.0Z"/><path d="M561.5,285.0 L566.0,281.5 L579.5,291.5 L575.0,295.5Z"/><path d="M564.0,285.5 L567.0,283.5 L577.0,291.0 L574.0,293.5Z"/><path d="M592.0,301.5 L618.5,298.0 L619.5,308.0 L593.0,311.0Z"/><path d="M595.0,303.5 L615.5,301.0 L616.5,306.0 L596.0,308.5Z"/><path d="M583.2,311.0 L660.0,292.0 L695.3,298.4"/><path d="M586.0,328.5 L660.0,309.3 L695.3,298.4 L760.6,293.0"/><path d="M500.0,350.0 L660.0,315.1 L763.3,305.7"/><path d="M548.4,358.0 L660.0,334.0 L745.0,318.0"/><path d="M688.0,219.5 L747.0,257.6 L760.6,293.0 L763.3,305.7"/><path d="M679.0,221.3 L739.0,256.0 L747.0,257.6"/><path d="M640.0,223.2 L688.0,219.5"/><path d="M745.0,318.0C748.0,315.9 758.7,306.4 763.3,305.7C767.9,305.0 769.4,310.3 772.4,313.9C775.4,317.5 780.0,325.2 781.5,327.5"/><path d="M781.5,327.5 L777.9,331.1 L768.8,334.7"/><path d="M755.0,323.0C756.8,321.2 762.8,312.3 766.0,312.0C769.2,311.7 772.0,317.8 774.0,321.0C776.0,324.2 777.2,329.4 777.9,331.1"/><path d="M500.0,336.4 L538.7,329.7 L540.6,340.3 L500.0,348.0"/><path d="M433.6,376.3C434.7,377.6 437.9,382.1 440.0,384.0C442.1,385.9 440.7,387.8 446.3,387.5C451.9,387.2 466.1,383.4 473.5,382.0C480.9,380.6 486.8,379.3 490.8,379.1C494.8,378.9 493.7,376.8 497.6,381.0C501.6,385.2 511.7,400.6 514.5,404.5"/><path d="M432.0,381.0C433.3,382.3 437.5,387.2 440.0,389.0C442.5,390.8 441.5,392.0 447.0,391.5C452.5,391.0 465.7,387.4 473.0,386.0C480.3,384.6 488.0,383.5 491.0,383.0"/><path d="M447.0,362.5C450.8,362.2 462.8,361.3 470.0,361.0C477.2,360.7 485.5,360.2 490.0,360.5C494.5,360.8 494.8,361.1 497.0,363.0C499.2,364.9 499.2,365.1 503.0,372.0C506.8,378.9 516.8,399.1 519.6,404.5"/><path d="M495.0,364.5C495.8,365.8 496.4,365.2 500.0,372.0C503.6,378.8 514.0,399.9 516.8,405.5"/><path d="M514.5,404.5 L519.6,404.5"/><path d="M504.3,372.6 L517.0,372.6 L517.0,378.1 L504.3,378.1"/><path d="M518.7,401.1 L548.3,396.9"/><path d="M519.5,404.0 L549.0,399.5"/><path d="M529.7,363.9 L538.2,355.4 L545.0,355.4 L548.3,363.9 L550.0,398.0"/><path d="M529.7,363.9 L529.7,377.4"/><path d="M531.5,362.0 L541.6,367.2 L543.3,396.0"/><path d="M420.9,379.9 L417.3,381.7 L415.4,408.9"/><ellipse cx="432.4" cy="369.2" rx="6.2" ry="8.3" transform="rotate(-18 432.4 369.2)"/><ellipse cx="431.6" cy="369.0" rx="1.4" ry="4.0" transform="rotate(-22 431.6 369.0)"/><path d="M430.0,361.8 L438.0,360.0"/><path d="M435.0,375.5 L442.0,371.0"/><ellipse cx="461.0" cy="416.0" rx="35.0" ry="30.5" transform="rotate(-10 461.0 416.0)"/><ellipse cx="465.5" cy="418.0" rx="22.0" ry="22.0" transform="rotate(-10 465.5 418.0)"/><ellipse cx="465.5" cy="418.0" rx="19.5" ry="19.5" transform="rotate(-10 465.5 418.0)"/><ellipse cx="464.4" cy="417.0" rx="4.2" ry="4.8" transform="rotate(0 464.4 417.0)"/><ellipse cx="466.4" cy="416.5" rx="4.2" ry="4.8" transform="rotate(0 466.4 416.5)"/><path d="M547.0,365.0 L640.0,346.3 L745.0,325.0"/><path d="M566.0,411.9 L629.8,399.9 L736.2,373.3"/><path d="M404.0,307.0C404.2,305.2 405.3,299.5 405.0,296.0C404.7,292.5 402.5,287.7 402.0,286.0"/><path d="M404.5,300.0C405.2,298.7 407.6,294.2 409.0,292.0C410.4,289.8 412.3,287.8 413.0,287.0"/><path d="M456.0,341.0 L457.0,352.0 L456.0,366.0"/><path d="M700.0,294.0C702.0,292.3 707.8,287.0 712.0,284.0C716.2,281.0 720.8,279.0 725.0,276.0C729.2,273.0 733.7,269.0 737.0,266.0C740.3,263.0 743.7,259.3 745.0,258.0"/><path d="M730.0,271.0C730.5,269.5 732.8,265.0 733.0,262.0C733.2,259.0 731.3,254.5 731.0,253.0"/><path d="M684.0,233.0 L691.0,232.0 L692.0,238.0 L689.5,250.0 L687.0,250.5 L685.0,240.0Z"/></g>
<g fill="none" stroke="#111" stroke-width="1.6"><path d="M552.0,370.0C560.0,368.3 582.0,363.8 600.0,360.0C618.0,356.2 635.8,352.2 660.0,347.0C684.2,341.8 728.8,331.3 745.0,328.5C761.2,325.7 754.3,328.1 757.0,330.0C759.7,331.9 760.7,335.6 761.0,340.0C761.3,344.4 760.8,350.7 759.0,356.6C757.2,362.5 754.2,371.7 750.0,375.4C745.8,379.1 744.8,375.4 733.6,378.6C722.4,381.8 704.7,389.3 683.0,394.6C661.3,399.9 621.7,407.2 603.2,410.5C584.7,413.8 579.5,414.1 572.0,414.5C564.5,414.9 561.4,415.4 558.0,413.0C554.6,410.6 552.7,404.7 551.5,400.0C550.3,395.3 550.9,390.0 551.0,385.0C551.1,380.0 551.8,372.5 552.0,370.0C552.2,367.5 544.0,371.7 552.0,370.0Z"/></g>
<g fill="none" stroke="#111" stroke-width="0.9"><g><ellipse cx="743.8" cy="351.9" rx="17.5" ry="19.0" transform="rotate(-15 743.8 351.9)" fill="#fff" stroke-width="1.2"/><ellipse cx="743.8" cy="351.9" rx="15.8" ry="17.1" transform="rotate(-15 743.8 351.9)"/><ellipse cx="743.8" cy="351.9" rx="14.0" ry="15.2" transform="rotate(-15 743.8 351.9)" stroke-width="0.6"/><path d="M755.8,355.6L751.1,362.9L747.8,354.9Z" stroke-width="1.05" stroke-linejoin="round"/><path d="M747.2,364.8L738.9,363.8L743.5,357.0Z" stroke-width="1.05" stroke-linejoin="round"/><path d="M735.2,361.0L731.6,352.8L739.5,354.0Z" stroke-width="1.05" stroke-linejoin="round"/><path d="M731.8,348.2L736.5,340.9L739.8,348.9Z" stroke-width="1.05" stroke-linejoin="round"/><path d="M740.4,339.0L748.7,340.0L744.1,346.8Z" stroke-width="1.05" stroke-linejoin="round"/><path d="M752.4,342.8L756.0,351.0L748.1,349.8Z" stroke-width="1.05" stroke-linejoin="round"/><ellipse cx="743.8" cy="351.9" rx="2.3" ry="2.5" transform="rotate(-15 743.8 351.9)" fill="#111"/></g><g><ellipse cx="684.0" cy="367.6" rx="18.5" ry="20.0" transform="rotate(-15 684.0 367.6)" fill="#fff" stroke-width="1.2"/><ellipse cx="684.0" cy="367.6" rx="16.7" ry="18.0" transform="rotate(-15 684.0 367.6)"/><ellipse cx="684.0" cy="367.6" rx="14.8" ry="16.0" transform="rotate(-15 684.0 367.6)" stroke-width="0.6"/><path d="M696.6,371.5L691.7,379.1L688.2,370.8Z" stroke-width="1.05" stroke-linejoin="round"/><path d="M687.6,381.1L678.8,380.1L683.7,372.9Z" stroke-width="1.05" stroke-linejoin="round"/><path d="M674.9,377.2L671.1,368.6L679.5,369.8Z" stroke-width="1.05" stroke-linejoin="round"/><path d="M671.4,363.7L676.3,356.1L679.8,364.4Z" stroke-width="1.05" stroke-linejoin="round"/><path d="M680.4,354.1L689.2,355.1L684.3,362.3Z" stroke-width="1.05" stroke-linejoin="round"/><path d="M693.1,358.0L696.9,366.6L688.5,365.4Z" stroke-width="1.05" stroke-linejoin="round"/><ellipse cx="684.0" cy="367.6" rx="2.4" ry="2.6" transform="rotate(-15 684.0 367.6)" fill="#111"/></g><g><ellipse cx="602.4" cy="385.3" rx="15.0" ry="17.0" transform="rotate(-15 602.4 385.3)" fill="#fff" stroke-width="1.2"/><ellipse cx="602.4" cy="385.3" rx="13.5" ry="15.3" transform="rotate(-15 602.4 385.3)"/><ellipse cx="602.4" cy="385.3" rx="12.0" ry="13.6" transform="rotate(-15 602.4 385.3)" stroke-width="0.6"/><path d="M612.7,388.7L608.8,395.1L605.8,388.0Z" stroke-width="1.05" stroke-linejoin="round"/><path d="M605.4,396.8L598.3,395.9L602.2,389.8Z" stroke-width="1.05" stroke-linejoin="round"/><path d="M595.1,393.4L591.9,386.0L598.8,387.1Z" stroke-width="1.05" stroke-linejoin="round"/><path d="M592.1,381.9L596.0,375.5L599.0,382.6Z" stroke-width="1.05" stroke-linejoin="round"/><path d="M599.4,373.8L606.5,374.7L602.6,380.8Z" stroke-width="1.05" stroke-linejoin="round"/><path d="M609.7,377.2L612.9,384.6L606.0,383.5Z" stroke-width="1.05" stroke-linejoin="round"/><ellipse cx="602.4" cy="385.3" rx="2.0" ry="2.2" transform="rotate(-15 602.4 385.3)" fill="#111"/></g><g><ellipse cx="712.3" cy="361.3" rx="20.5" ry="22.0" transform="rotate(-15 712.3 361.3)" fill="#fff" stroke-width="1.2"/><ellipse cx="712.3" cy="361.3" rx="18.4" ry="19.8" transform="rotate(-15 712.3 361.3)"/><ellipse cx="712.3" cy="361.3" rx="16.4" ry="17.6" transform="rotate(-15 712.3 361.3)" stroke-width="0.6"/><path d="M726.3,365.6L720.8,374.0L716.9,364.8Z" stroke-width="1.05" stroke-linejoin="round"/><path d="M716.2,376.2L706.5,375.1L711.9,367.2Z" stroke-width="1.05" stroke-linejoin="round"/><path d="M702.3,371.9L698.0,362.4L707.3,363.7Z" stroke-width="1.05" stroke-linejoin="round"/><path d="M698.3,357.0L703.8,348.6L707.7,357.8Z" stroke-width="1.05" stroke-linejoin="round"/><path d="M708.4,346.4L718.1,347.5L712.7,355.4Z" stroke-width="1.05" stroke-linejoin="round"/><path d="M722.3,350.7L726.6,360.2L717.3,358.9Z" stroke-width="1.05" stroke-linejoin="round"/><ellipse cx="712.3" cy="361.3" rx="2.7" ry="2.9" transform="rotate(-15 712.3 361.3)" fill="#111"/></g><g><ellipse cx="653.2" cy="378.0" rx="20.5" ry="22.0" transform="rotate(-15 653.2 378.0)" fill="#fff" stroke-width="1.2"/><ellipse cx="653.2" cy="378.0" rx="18.4" ry="19.8" transform="rotate(-15 653.2 378.0)"/><ellipse cx="653.2" cy="378.0" rx="16.4" ry="17.6" transform="rotate(-15 653.2 378.0)" stroke-width="0.6"/><path d="M667.2,382.3L661.7,390.7L657.8,381.5Z" stroke-width="1.05" stroke-linejoin="round"/><path d="M657.1,392.9L647.4,391.8L652.8,383.9Z" stroke-width="1.05" stroke-linejoin="round"/><path d="M643.2,388.6L638.9,379.1L648.2,380.4Z" stroke-width="1.05" stroke-linejoin="round"/><path d="M639.2,373.7L644.7,365.3L648.6,374.5Z" stroke-width="1.05" stroke-linejoin="round"/><path d="M649.3,363.1L659.0,364.2L653.6,372.1Z" stroke-width="1.05" stroke-linejoin="round"/><path d="M663.2,367.4L667.5,376.9L658.2,375.6Z" stroke-width="1.05" stroke-linejoin="round"/><ellipse cx="653.2" cy="378.0" rx="2.7" ry="2.9" transform="rotate(-15 653.2 378.0)" fill="#111"/></g><g><ellipse cx="621.3" cy="382.4" rx="16.5" ry="18.5" transform="rotate(-15 621.3 382.4)" fill="#fff" stroke-width="1.2"/><ellipse cx="621.3" cy="382.4" rx="14.8" ry="16.7" transform="rotate(-15 621.3 382.4)"/><ellipse cx="621.3" cy="382.4" rx="13.2" ry="14.8" transform="rotate(-15 621.3 382.4)" stroke-width="0.6"/><path d="M632.6,386.1L628.3,393.1L625.1,385.4Z" stroke-width="1.05" stroke-linejoin="round"/><path d="M624.6,394.9L616.7,393.9L621.0,387.3Z" stroke-width="1.05" stroke-linejoin="round"/><path d="M613.3,391.2L609.7,383.2L617.3,384.4Z" stroke-width="1.05" stroke-linejoin="round"/><path d="M610.0,378.7L614.3,371.7L617.5,379.4Z" stroke-width="1.05" stroke-linejoin="round"/><path d="M618.0,369.9L625.9,370.9L621.6,377.5Z" stroke-width="1.05" stroke-linejoin="round"/><path d="M629.3,373.6L632.9,381.6L625.3,380.4Z" stroke-width="1.05" stroke-linejoin="round"/><ellipse cx="621.3" cy="382.4" rx="2.1" ry="2.4" transform="rotate(-15 621.3 382.4)" fill="#111"/></g><g stroke-width="1.3"><ellipse cx="572.0" cy="394.0" rx="20.0" ry="20.0" transform="rotate(0 572.0 394.0)" fill="#fff"/><ellipse cx="572.0" cy="394.0" rx="18.3" ry="18.3" transform="rotate(0 572.0 394.0)"/><ellipse cx="572.0" cy="394.0" rx="16.5" ry="16.5" transform="rotate(0 572.0 394.0)" stroke-width="0.7"/><ellipse cx="572.0" cy="394.0" rx="7.5" ry="7.5" transform="rotate(0 572.0 394.0)"/><ellipse cx="572.0" cy="394.0" rx="4.5" ry="4.5" transform="rotate(0 572.0 394.0)"/><ellipse cx="572.0" cy="394.0" rx="2.0" ry="2.0" transform="rotate(0 572.0 394.0)" fill="#111"/><path d="M588.4,392.0L583.5,394.0L588.4,396.0Z" fill="#111" stroke-width="0.5"/><path d="M587.6,399.3L582.4,399.0L585.9,402.9Z" fill="#111" stroke-width="0.5"/><path d="M583.8,405.6L579.2,403.0L580.7,408.0Z" fill="#111" stroke-width="0.5"/><path d="M577.6,409.5L574.6,405.2L573.7,410.4Z" fill="#111" stroke-width="0.5"/><path d="M570.3,410.4L569.4,405.2L566.4,409.5Z" fill="#111" stroke-width="0.5"/><path d="M563.3,408.0L564.8,403.0L560.2,405.6Z" fill="#111" stroke-width="0.5"/><path d="M558.1,402.9L561.6,399.0L556.4,399.3Z" fill="#111" stroke-width="0.5"/><path d="M555.6,396.0L560.5,394.0L555.6,392.0Z" fill="#111" stroke-width="0.5"/><path d="M556.4,388.7L561.6,389.0L558.1,385.1Z" fill="#111" stroke-width="0.5"/><path d="M560.2,382.4L564.8,385.0L563.3,380.0Z" fill="#111" stroke-width="0.5"/><path d="M566.4,378.5L569.4,382.8L570.3,377.6Z" fill="#111" stroke-width="0.5"/><path d="M573.7,377.6L574.6,382.8L577.6,378.5Z" fill="#111" stroke-width="0.5"/><path d="M580.7,380.0L579.2,385.0L583.8,382.4Z" fill="#111" stroke-width="0.5"/><path d="M585.9,385.1L582.4,389.0L587.6,388.7Z" fill="#111" stroke-width="0.5"/><path d="M579.4,395.3L583.3,396.0" stroke-width="0.8"/><path d="M574.6,401.0L575.9,404.8" stroke-width="0.8"/><path d="M567.2,399.7L564.6,402.8" stroke-width="0.8"/><path d="M564.6,392.7L560.7,392.0" stroke-width="0.8"/><path d="M569.4,387.0L568.1,383.2" stroke-width="0.8"/><path d="M576.8,388.3L579.4,385.2" stroke-width="0.8"/></g></g>
<g fill="#111"><ellipse cx="429.7" cy="309.5" rx="3.0" ry="2.0" transform="rotate(-20 429.7 309.5)"/><ellipse cx="476.3" cy="292.6" rx="3.0" ry="2.0" transform="rotate(-20 476.3 292.6)"/><ellipse cx="509.2" cy="319.4" rx="3.0" ry="2.0" transform="rotate(-20 509.2 319.4)"/><ellipse cx="432.0" cy="323.6" rx="2.6" ry="1.4" transform="rotate(-20 432.0 323.6)"/><ellipse cx="494.5" cy="301.7" rx="2.6" ry="1.4" transform="rotate(-20 494.5 301.7)"/><path d="M501.9,278.0 L515.5,275.1 L532.9,290.6 L519.3,294.5Z"/><path d="M525.1,299.3 L538.7,295.5 L557.1,310.9 L543.5,314.8Z"/><path d="M432.5,354.5L424,350.5L427,354.5L423,357.5Z"/></g>
<path d="M553,369L660,346L745,327.5" fill="none" stroke="#111" stroke-width="2.2" stroke-dasharray="0.9,0.7"/>
<g fill="#111"><path d="M402.5,290.0C407.3,288.8 403.9,284.2 400.7,281.6C398.8,285.3 397.6,290.9 402.5,290.0Z"/><path d="M409.5,291.0C413.4,294.7 415.6,288.9 416.1,284.4C411.6,284.9 405.8,287.1 409.5,291.0Z"/><path d="M400.0,299.0C403.7,296.1 399.0,293.5 395.2,292.4C395.0,296.4 396.1,301.6 400.0,299.0Z"/><path d="M398.0,303.0C400.7,299.4 395.7,298.2 392.0,298.2C392.8,301.8 395.1,306.4 398.0,303.0Z"/><path d="M395.0,305.0C394.2,301.9 391.3,304.1 389.6,306.2C392.0,307.4 395.6,308.1 395.0,305.0Z"/><path d="M406.0,303.0C409.8,302.2 407.3,298.5 404.8,296.4C403.3,299.3 402.2,303.6 406.0,303.0Z"/><path d="M414.0,301.0C415.9,304.4 418.6,301.0 420.0,298.0C416.8,297.3 412.4,297.5 414.0,301.0Z"/><path d="M399.0,306.0C395.5,304.7 395.7,309.0 396.6,312.0C399.3,310.4 402.4,307.5 399.0,306.0Z"/><path d="M393.5,308.5C390.7,307.2 390.6,310.8 391.1,313.3C393.5,312.2 396.2,310.0 393.5,308.5Z"/><circle cx="420.5" cy="301" r="2.3"/><path d="M455.0,337.0C457.7,332.7 452.2,331.9 448.1,332.4C449.3,336.3 452.1,341.1 455.0,337.0Z"/><path d="M455.0,337.0C458.8,335.5 455.6,332.3 452.7,330.7C451.6,333.8 451.1,338.3 455.0,337.0Z"/><path d="M456.0,337.0C459.9,339.0 460.2,334.2 459.4,330.7C456.1,332.0 452.2,334.8 456.0,337.0Z"/><path d="M456.0,337.0C458.3,341.5 461.7,337.2 463.5,333.6C459.5,332.5 454.0,332.4 456.0,337.0Z"/><path d="M456.0,338.0C454.0,342.3 459.2,342.3 462.9,341.4C461.4,337.9 458.2,333.9 456.0,338.0Z"/><path d="M455.0,338.0C452.4,334.2 449.8,338.5 448.7,342.0C452.4,342.5 457.3,341.9 455.0,338.0Z"/><path d="M440.0,348.0C442.0,344.8 437.9,344.2 434.8,344.6C435.7,347.5 437.8,351.1 440.0,348.0Z"/><path d="M444.0,347.0C440.8,344.7 439.9,348.9 440.0,352.2C443.2,351.5 447.1,349.6 444.0,347.0Z"/><path d="M447.0,350.0C442.7,347.3 441.9,352.8 442.4,356.9C446.3,355.7 451.1,352.9 447.0,350.0Z"/><path d="M452.0,354.0C447.7,351.3 446.9,356.8 447.4,360.9C451.3,359.7 456.1,356.9 452.0,354.0Z"/><path d="M456.0,352.0C451.8,353.5 455.2,357.0 458.3,358.9C459.6,355.5 460.2,350.7 456.0,352.0Z"/><path d="M461.0,349.0C463.9,352.4 466.0,348.0 466.8,344.4C463.1,344.3 458.3,345.4 461.0,349.0Z"/><path d="M466.0,352.0C468.2,355.4 470.7,351.7 471.8,348.6C468.5,348.0 464.0,348.4 466.0,352.0Z"/><path d="M470.0,354.0C471.5,358.2 475.0,354.8 476.9,351.7C473.5,350.4 468.7,349.8 470.0,354.0Z"/><path d="M473.0,357.0C469.6,359.9 474.0,362.0 477.6,362.8C477.7,359.1 476.6,354.3 473.0,357.0Z"/><path d="M447.0,358.0C443.8,355.3 442.5,359.7 442.4,363.2C445.8,362.7 450.1,360.9 447.0,358.0Z"/><path d="M451.0,360.0C446.4,358.7 447.2,363.9 448.7,367.5C452.0,365.4 455.5,361.6 451.0,360.0Z"/><path d="M458.0,357.0C453.7,354.3 452.9,359.8 453.4,363.9C457.3,362.7 462.1,359.9 458.0,357.0Z"/><path d="M463.0,359.0C459.2,361.2 463.1,364.0 466.4,365.3C467.2,361.8 466.9,357.0 463.0,359.0Z"/><path d="M444.0,355.0C446.0,351.1 441.2,350.8 437.7,351.6C439.0,354.9 441.8,358.8 444.0,355.0Z"/><path d="M452.0,346.0C454.0,342.4 449.5,342.0 446.2,342.6C447.3,345.7 449.8,349.4 452.0,346.0Z"/><path d="M460.0,345.0C462.0,342.1 458.2,341.4 455.4,341.6C456.0,344.3 457.8,347.7 460.0,345.0Z"/><path d="M468.0,347.0C470.5,349.7 472.1,346.0 472.6,343.0C469.6,343.0 465.6,344.1 468.0,347.0Z"/><path d="M457.0,366.0C448.6,365.9 452.2,374.4 456.4,379.8C461.0,374.7 465.4,366.6 457.0,366.0Z"/><path d="M462.0,366.0C454.6,365.9 457.8,373.3 461.4,378.1C465.5,373.7 469.3,366.6 462.0,366.0Z"/><path d="M467.5,365.0C459.1,366.3 464.2,374.1 469.2,378.8C473.0,373.0 475.9,364.2 467.5,365.0Z"/><path d="M474.0,362.0C466.3,363.3 471.0,370.4 475.7,374.6C479.1,369.3 481.7,361.2 474.0,362.0Z"/><path d="M452.0,366.0C447.0,363.7 446.9,369.7 448.0,374.1C452.1,372.3 456.8,368.6 452.0,366.0Z"/><path d="M446.0,362.0C442.4,358.6 440.6,363.7 440.2,367.8C444.3,367.4 449.4,365.6 446.0,362.0Z"/><ellipse cx="455" cy="337" rx="4" ry="3.5"/><ellipse cx="452" cy="355" rx="7" ry="5"/><ellipse cx="462" cy="360" rx="4.5" ry="3.5"/><path d="M705.3,271.0C708.7,266.2 702.5,265.1 697.9,265.4C698.9,270.0 701.6,275.6 705.3,271.0Z"/><path d="M712.0,270.0C716.1,275.2 719.3,268.9 720.4,263.7C715.1,263.3 708.2,264.6 712.0,270.0Z"/><path d="M722.0,275.0C726.1,279.4 728.5,273.5 729.1,268.7C724.3,268.7 718.2,270.4 722.0,275.0Z"/><path d="M728.0,268.0C732.1,271.4 733.6,265.9 733.6,261.7C729.4,262.2 724.1,264.3 728.0,268.0Z"/><path d="M700.0,279.0C703.8,274.9 698.2,273.0 693.7,272.7C694.0,277.2 695.9,282.8 700.0,279.0Z"/><path d="M698.0,284.0C699.6,279.1 694.1,279.7 690.3,281.2C692.3,284.8 696.1,288.8 698.0,284.0Z"/><path d="M697.0,290.0C693.4,286.6 691.7,291.6 691.4,295.6C695.4,295.3 700.4,293.6 697.0,290.0Z"/><path d="M703.5,288.0C697.3,287.8 699.8,293.8 702.8,297.8C706.3,294.3 709.7,288.6 703.5,288.0Z"/><path d="M708.9,287.0C702.3,288.2 706.4,294.0 710.4,297.5C713.3,293.0 715.5,286.2 708.9,287.0Z"/><path d="M716.2,284.0C709.6,284.0 712.6,290.4 715.9,294.5C719.5,290.6 722.8,284.4 716.2,284.0Z"/><path d="M721.6,281.0C715.5,282.4 719.6,287.7 723.6,290.8C726.0,286.4 727.8,280.0 721.6,281.0Z"/><path d="M726.0,279.0C720.8,282.7 726.7,286.1 731.6,287.4C732.2,282.4 731.4,275.6 726.0,279.0Z"/><path d="M731.0,283.0C725.8,286.7 731.7,290.1 736.6,291.4C737.2,286.4 736.4,279.6 731.0,283.0Z"/><path d="M736.0,280.0C730.8,284.6 737.6,287.5 743.0,288.4C743.1,282.9 741.4,275.8 736.0,280.0Z"/><path d="M739.0,278.0C736.1,283.4 742.6,283.8 747.4,282.9C745.8,278.3 742.3,272.8 739.0,278.0Z"/><path d="M741.0,270.0C740.3,275.3 745.7,273.6 749.4,271.4C746.7,268.1 742.0,264.7 741.0,270.0Z"/><path d="M743.0,264.0C742.7,268.4 747.1,266.7 750.0,264.7C747.6,262.1 743.6,259.6 743.0,264.0Z"/><path d="M738.0,258.5C743.0,261.5 743.7,255.4 743.0,250.8C738.6,252.1 733.2,255.2 738.0,258.5Z"/><path d="M733.0,257.0C737.9,258.0 736.7,252.8 734.8,249.3C731.6,251.6 728.2,255.7 733.0,257.0Z"/><path d="M729.0,263.0C731.5,258.5 726.0,258.1 722.0,258.8C723.3,262.7 726.2,267.3 729.0,263.0Z"/><path d="M720.0,279.0C724.8,276.2 719.9,272.8 715.8,271.3C714.9,275.6 715.1,281.5 720.0,279.0Z"/><path d="M714.0,280.0C717.4,275.9 711.9,274.4 707.7,274.4C708.2,278.6 710.3,283.9 714.0,280.0Z"/><path d="M726.0,273.0C731.3,273.7 729.6,268.3 727.4,264.6C724.1,267.3 720.7,271.9 726.0,273.0Z"/><path d="M736.0,272.0C739.7,276.3 742.2,270.8 743.0,266.4C738.5,266.2 732.6,267.5 736.0,272.0Z"/><path d="M704.0,283.0C706.5,278.5 701.0,278.1 697.0,278.8C698.3,282.7 701.2,287.3 704.0,283.0Z"/><path d="M687.0,233.0C689.4,230.4 685.8,229.2 683.0,229.0C683.2,231.8 684.4,235.4 687.0,233.0Z"/><path d="M688.0,233.0C690.9,235.4 692.0,231.5 692.0,228.5C689.0,228.9 685.2,230.4 688.0,233.0Z"/><circle cx="688" cy="238" r="1"/></g>
<g fill="#fff" stroke="none"><path d="M521.2,494.5L526.3,499.6L551,497.6L587,499.6L585.9,495.5L581.8,481A27.3,23.5 0 0 0 527.3,481Z"/><path d="M723.9,423.6C721.2,424.6 717.5,423.8 714.6,424.9C711.7,426.0 708.7,428.0 706.6,430.2C704.5,432.4 703.2,435.3 701.9,438.2C700.6,441.1 699.6,443.9 698.6,447.5C697.6,451.1 696.5,455.7 696.0,459.5C695.5,463.3 695.1,466.2 695.3,470.1C695.5,474.0 697.2,476.5 697.3,482.6C697.4,488.7 696.8,499.5 696.0,506.6C695.2,513.7 692.7,520.9 692.6,525.2C692.5,529.5 693.3,531.2 695.5,532.5C697.7,533.8 703.9,534.9 706.0,533.0C708.1,531.1 705.8,526.1 707.9,521.2C710.0,516.4 715.9,509.9 718.6,503.9C721.3,497.9 721.7,489.1 723.9,485.3C726.1,481.5 729.5,478.9 731.9,481.3C734.3,483.7 736.1,493.5 738.5,499.9C740.9,506.3 744.3,513.9 746.5,519.9C748.7,525.9 748.8,533.6 751.8,536.0C754.8,538.4 762.7,536.1 764.5,534.5C766.3,532.9 763.3,532.3 762.5,526.5C761.7,520.7 760.7,509.0 759.8,499.9C758.9,490.8 757.0,477.9 757.0,472.0C757.0,466.1 759.3,468.2 759.8,464.8C760.3,461.4 760.0,455.3 759.8,451.5C759.6,447.7 759.2,445.3 758.5,442.2C757.8,439.1 756.9,435.6 755.8,432.9C754.7,430.2 753.6,427.8 751.8,426.2C750.0,424.6 746.4,424.8 745.2,423.6C744.0,422.4 746.9,419.8 744.5,419.0C742.1,418.2 734.4,418.2 731.0,419.0C727.6,419.8 726.6,422.6 723.9,423.6Z"/><path d="M706.0,471.0 L732.0,471.0 L732.0,477.0 L708.0,477.5 L705.0,474.0Z"/><path d="M700.0,475.0C701.2,474.0 704.3,473.5 706.0,474.0C707.7,474.5 709.7,476.3 710.0,478.0C710.3,479.7 709.5,482.9 708.0,484.0C706.5,485.1 702.6,485.2 701.0,484.5C699.4,483.8 698.7,481.6 698.5,480.0C698.3,478.4 698.8,476.0 700.0,475.0Z"/></g>
<g fill="none" stroke="#111" stroke-width="0.9" stroke-linejoin="round"><path d="M538.0,499.5C537.6,501.4 535.4,507.1 535.5,510.9C535.6,514.7 536.8,519.4 538.5,522.5C540.2,525.6 543.1,527.7 545.8,529.3C548.5,530.9 551.5,532.4 554.5,532.2C557.5,532.0 561.2,530.5 563.5,528.3C565.8,526.0 567.2,522.2 568.5,518.7C569.8,515.2 570.8,510.2 571.5,507.1C572.2,504.0 572.3,501.2 572.5,500.0"/><path d="M531.3,501.3C531.6,503.6 531.8,510.6 533.2,514.8C534.7,519.0 537.1,523.4 540.0,526.4C542.9,529.4 547.3,531.5 550.6,532.6C553.9,533.7 558.4,532.9 560.0,533.0"/><path d="M527.5,511.5C527.0,513.0 524.7,516.5 524.5,520.6C524.3,524.7 525.3,533.2 526.4,536.1C527.5,539.0 529.4,538.3 531.3,538.0C533.2,537.7 536.9,534.8 538.0,534.1"/><path d="M538.0,534.1 L543.8,541.9 L541.9,553.5"/><path d="M570.0,513.8C570.5,515.9 572.8,523.0 572.9,526.4C573.0,529.8 572.2,532.3 570.9,534.1C569.6,535.9 567.4,536.7 565.1,537.0C562.9,537.3 558.7,536.2 557.4,536.1"/><path d="M557.4,536.1 L543.8,553.5"/><path d="M538.0,534.1 L545.0,531.0"/><path d="M541.9,553.5 L537.0,556.0"/><path d="M572.0,504.0 L570.0,513.8"/><path d="M521.2,494.5C522.1,495.4 523.6,498.9 526.3,499.6C529.0,500.3 533.5,498.9 537.6,498.6C541.7,498.3 546.5,497.6 551.0,497.6C555.5,497.6 560.0,498.2 564.3,498.6C568.6,499.0 572.9,499.9 576.7,500.1C580.5,500.3 585.5,500.4 587.0,499.6C588.5,498.8 586.5,497.4 585.9,495.5C585.3,493.6 584.2,490.4 583.5,488.0C582.8,485.6 582.1,482.2 581.8,481.1"/><path d="M527.3,480.1C526.8,481.1 525.2,483.8 524.2,486.2C523.2,488.6 521.7,493.1 521.2,494.5"/><path d="M527.3,481A27.3,23.5 0 0 1 581.8,481"/><path d="M525.0,480.0C529.0,480.5 541.0,482.8 548.9,483.2C556.8,483.6 566.1,482.8 572.6,482.1C579.1,481.4 585.4,479.5 588.0,479.0"/><path d="M525.0,482.6C529.0,483.1 541.0,485.5 548.9,485.8C556.8,486.1 566.1,485.4 572.6,484.7C579.1,484.0 585.4,482.1 588.0,481.6"/><path d="M529.0,480.0C529.5,478.0 530.2,471.3 532.0,468.0C533.8,464.7 536.8,461.7 540.0,460.0C543.2,458.3 549.2,458.3 551.0,458.0"/><path d="M548.0,481.0C548.2,479.2 549.5,473.2 549.0,470.0C548.5,466.8 545.7,463.3 545.0,462.0"/><path d="M536.0,457.0C536.8,456.6 539.2,455.1 541.0,454.5C542.8,453.9 545.2,453.8 547.0,453.5C548.8,453.2 550.5,452.6 552.0,453.0C553.5,453.4 555.3,455.5 556.0,456.0"/><path d="M556.0,481.0C556.2,479.2 555.8,473.2 557.0,470.0C558.2,466.8 560.5,463.3 563.0,462.0C565.5,460.7 570.5,462.0 572.0,462.0"/><path d="M578.0,480.0C578.3,478.3 580.0,473.0 580.0,470.0C580.0,467.0 578.3,463.3 578.0,462.0"/><path d="M723.9,416.3C724.2,416.7 724.8,418.3 725.9,418.9C727.0,419.5 727.5,419.7 730.5,419.9C733.5,420.1 740.5,420.1 743.8,419.9C747.1,419.7 749.6,419.4 750.5,418.9C751.4,418.4 749.4,417.2 749.2,416.9"/><path d="M731.2,419.9C731.3,420.9 731.2,424.6 731.9,426.2C732.6,427.8 733.9,429.0 735.2,429.6C736.5,430.2 738.6,430.3 739.9,430.0C741.2,429.7 742.4,429.3 743.2,427.6C744.0,425.9 744.3,421.2 744.5,419.9"/><path d="M723.9,423.6C722.4,423.8 717.5,423.8 714.6,424.9C711.7,426.0 708.7,428.0 706.6,430.2C704.5,432.4 703.2,435.3 701.9,438.2C700.6,441.1 699.6,443.9 698.6,447.5C697.6,451.1 696.5,455.7 696.0,459.5C695.5,463.3 695.1,466.2 695.3,470.1C695.5,474.0 697.0,480.5 697.3,482.6"/><path d="M745.2,423.6C746.3,424.0 750.0,424.6 751.8,426.2C753.6,427.8 754.7,430.2 755.8,432.9C756.9,435.6 757.8,439.1 758.5,442.2C759.2,445.3 759.6,447.7 759.8,451.5C760.0,455.3 760.3,461.4 759.8,464.8C759.3,468.2 757.5,470.8 757.0,472.0"/><path d="M729.0,424.0C729.3,425.2 729.8,429.3 731.0,431.0C732.2,432.7 734.3,433.8 736.0,434.0C737.7,434.2 739.5,433.5 741.0,432.0C742.5,430.5 744.3,426.2 745.0,425.0"/><path d="M707.0,432.0C706.7,434.2 705.5,440.7 705.0,445.0C704.5,449.3 704.0,454.5 704.0,458.0C704.0,461.5 704.8,464.7 705.0,466.0"/><path d="M751.0,430.0C751.2,432.5 751.8,440.0 752.0,445.0C752.2,450.0 752.0,457.5 752.0,460.0"/><path d="M729.0,431.0C729.7,432.0 731.7,435.5 733.0,437.0C734.3,438.5 736.3,439.5 737.0,440.0"/><path d="M743.0,431.0C742.3,432.0 740.0,435.5 739.0,437.0C738.0,438.5 737.3,439.5 737.0,440.0"/><path d="M720.5,445.0 L728.0,445.0 L728.0,458.0 L720.5,458.0Z"/><path d="M737.5,445.0 L745.0,445.0 L745.0,458.0 L737.5,458.0Z"/><path d="M721.0,447.5 L727.5,447.5"/><path d="M738.0,447.5 L744.5,447.5"/><path d="M707.0,460.0 L733.0,464.0 L733.0,468.0 L707.0,465.0Z"/><path d="M734.0,462.0 L758.0,460.0"/><path d="M710.0,461.0 L710.0,469.5"/><path d="M714.0,461.0 L714.0,469.5"/><path d="M718.0,461.0 L718.0,469.5"/><path d="M722.0,461.0 L722.0,469.5"/><path d="M726.0,461.0 L726.0,469.5"/><path d="M730.0,461.0 L730.0,469.5"/><path d="M708.0,469.5 L733.0,471.0"/><path d="M706.0,471.0 L732.0,471.0 L732.0,477.0 L708.0,477.5 L705.0,474.0Z"/><path d="M708.0,474.0 L731.0,474.0"/><path d="M700.0,475.0C701.2,474.0 704.3,473.5 706.0,474.0C707.7,474.5 709.7,476.3 710.0,478.0C710.3,479.7 709.5,482.9 708.0,484.0C706.5,485.1 702.6,485.2 701.0,484.5C699.4,483.8 698.7,481.6 698.5,480.0C698.3,478.4 698.8,476.0 700.0,475.0Z"/><path d="M744.0,474.5C745.2,473.8 748.5,474.2 750.0,475.0C751.5,475.8 753.3,477.8 753.0,479.0C752.7,480.2 749.7,482.0 748.0,482.0C746.3,482.0 743.7,480.2 743.0,479.0C742.3,477.8 742.8,475.2 744.0,474.5Z"/><path d="M697.3,482.6C697.1,486.6 696.8,499.5 696.0,506.6C695.2,513.7 692.7,520.9 692.6,525.2C692.5,529.5 695.0,531.3 695.5,532.5"/><path d="M723.9,485.3C723.0,488.4 721.3,497.9 718.6,503.9C715.9,509.9 710.0,516.5 707.9,521.2C705.8,525.9 706.2,530.2 705.9,532.0"/><path d="M731.9,481.3C733.0,484.4 736.1,493.5 738.5,499.9C740.9,506.3 744.3,513.9 746.5,519.9C748.7,525.9 750.9,533.3 751.8,536.0"/><path d="M753.2,474.6C754.3,478.8 758.2,491.2 759.8,499.9C761.3,508.5 761.7,520.7 762.5,526.5C763.3,532.3 764.2,533.2 764.5,534.5"/><path d="M710.0,484.5 L723.9,485.3 L731.9,481.3"/><path d="M695.3,531.8 L706.2,532.8"/><path d="M696.0,537.1 L705.3,537.8"/><path d="M751.0,533.0 L764.5,532.0"/><path d="M753.0,537.8 L765.0,536.0"/><path d="M696.0,532.5 L696.0,537.1"/><path d="M705.9,532.8 L705.3,537.8"/><path d="M700.0,492.0 L707.0,498.0"/><path d="M699.0,510.0 L708.0,514.0"/><path d="M697.0,520.0 L705.0,524.0"/><path d="M742.0,492.0 L750.0,500.0"/><path d="M745.0,503.0 L753.0,508.0"/><path d="M748.0,515.0 L757.0,518.0"/><path d="M741.0,487.0 L752.0,490.0"/></g>
<g fill="none" stroke="#111" stroke-width="2.4"><path d="M722.6,424.9C722.2,426.6 721.0,431.5 720.5,435.0C720.0,438.5 720.2,441.9 719.9,446.0C719.6,450.1 718.8,457.2 718.6,459.5"/><path d="M745.2,424.9C745.3,426.6 745.8,431.5 746.0,435.0C746.2,438.5 746.3,441.9 746.5,446.0C746.7,450.1 747.1,457.2 747.2,459.5"/><path d="M717.2,437.2 L707.2,461.7"/><path d="M708.0,459.5 L734.0,462.5"/></g>
<g fill="#111"><path d="M535.6,456.4C539.7,453.5 534.3,449.4 529.9,447.4C529.8,452.2 531.2,458.9 535.6,456.4Z"/><path d="M541.7,454.4C546.4,452.6 542.2,447.3 538.4,444.3C537.1,448.9 536.9,455.8 541.7,454.4Z"/><path d="M546.9,453.4C552.0,452.4 548.5,446.3 545.1,442.6C543.1,447.2 541.8,454.0 546.9,453.4Z"/><path d="M552.0,452.8C557.1,453.4 555.7,446.6 553.6,442.1C550.4,445.8 547.0,451.8 552.0,452.8Z"/><path d="M555.1,456.4C557.8,458.4 559.3,454.0 559.6,450.8C556.5,451.8 552.5,454.2 555.1,456.4Z"/><path d="M567.4,460.6C568.8,464.7 572.3,461.5 574.2,458.5C570.9,457.2 566.3,456.4 567.4,460.6Z"/><path d="M577.7,464.7C583.1,466.1 582.1,460.1 580.3,456.0C576.5,458.5 572.4,462.9 577.7,464.7Z"/><path d="M581.8,468.8C584.4,472.8 587.3,468.5 588.6,464.8C584.7,464.1 579.5,464.6 581.8,468.8Z"/><path d="M587.0,473.9C588.0,479.5 593.1,476.0 596.2,472.6C592.3,470.1 586.4,468.3 587.0,473.9Z"/><path d="M587.0,481.1C585.1,487.1 592.0,486.3 596.8,484.5C594.1,480.1 589.2,475.2 587.0,481.1Z"/><path d="M526.3,469.8C528.5,463.2 521.0,463.9 515.6,465.8C518.4,470.7 523.6,476.2 526.3,469.8Z"/><path d="M527.3,474.9C527.1,470.1 522.4,472.4 519.4,474.9C522.4,477.4 527.1,479.7 527.3,474.9Z"/><path d="M534.5,463.6C536.7,459.5 531.6,459.1 527.9,459.7C529.1,463.3 532.0,467.6 534.5,463.6Z"/><path d="M542.7,466.7C545.9,464.2 542.0,462.2 538.8,461.4C538.6,464.6 539.4,469.0 542.7,466.7Z"/><path d="M551.0,465.7C555.0,463.9 551.4,460.7 548.3,459.1C547.2,462.5 546.9,467.2 551.0,465.7Z"/><path d="M555.1,466.7C559.2,468.2 558.8,463.4 557.7,460.1C554.6,461.8 551.1,465.0 555.1,466.7Z"/><path d="M559.2,470.8C561.8,474.0 563.8,470.0 564.5,466.8C561.2,466.6 556.9,467.5 559.2,470.8Z"/><path d="M540.7,473.9C543.1,471.4 539.5,470.1 536.7,469.9C536.9,472.7 538.2,476.3 540.7,473.9Z"/><path d="M554.0,477.0C558.0,476.1 555.3,472.5 552.7,470.4C551.1,473.3 549.9,477.7 554.0,477.0Z"/><path d="M573.6,473.9C576.9,476.2 577.8,471.9 577.6,468.6C574.4,469.3 570.4,471.3 573.6,473.9Z"/><path d="M564.0,462.0C568.4,463.4 567.9,458.4 566.6,454.9C563.3,456.7 559.7,460.3 564.0,462.0Z"/><path d="M531.0,479.0C532.5,475.4 528.2,475.5 525.1,476.4C526.5,479.3 529.3,482.5 531.0,479.0Z"/><path d="M580.0,477.0C580.9,480.5 584.0,478.1 585.9,475.7C583.2,474.3 579.3,473.4 580.0,477.0Z"/><path d="M520.5,480.0C514.2,479.8 516.8,486.2 519.9,490.4C523.4,486.7 526.8,480.6 520.5,480.0Z"/><path d="M525.5,483.0C519.2,483.0 522.0,489.3 525.2,493.4C528.6,489.6 531.8,483.4 525.5,483.0Z"/><path d="M533.0,485.0C526.2,485.7 529.9,492.2 533.8,496.2C537.1,491.7 539.8,484.7 533.0,485.0Z"/><path d="M538.5,484.0C532.2,484.3 535.3,490.5 538.7,494.4C541.9,490.4 544.8,484.1 538.5,484.0Z"/><path d="M547.5,484.0C541.2,484.6 544.6,490.7 548.1,494.4C551.2,490.2 553.8,483.8 547.5,484.0Z"/><path d="M555.0,483.5C549.2,483.8 552.0,489.5 555.2,493.1C558.2,489.4 560.8,483.6 555.0,483.5Z"/><path d="M562.0,482.0C556.7,482.5 559.5,487.6 562.5,490.8C565.1,487.3 567.4,481.9 562.0,482.0Z"/><path d="M574.0,482.0C567.7,482.8 571.3,488.8 575.0,492.4C577.9,488.1 580.4,481.6 574.0,482.0Z"/><path d="M580.0,483.0C573.2,484.0 577.2,490.4 581.3,494.2C584.4,489.5 586.8,482.4 580.0,483.0Z"/><path d="M586.0,480.0C580.7,481.2 584.2,486.0 587.6,488.8C589.8,484.9 591.4,479.2 586.0,480.0Z"/><circle cx="543.8" cy="473.9" r="3.2"/><circle cx="569.5" cy="472.9" r="3.2"/><circle cx="549" cy="455.5" r="1.8"/><path d="M725.0,416.5C721.0,415.4 724.3,412.0 724.5,410.0C724.7,408.0 725.2,405.9 726.0,404.5C726.8,403.1 727.8,402.2 729.0,401.5C730.2,400.8 731.8,400.4 733.5,400.2C735.2,399.9 737.3,399.9 739.0,400.0C740.7,400.1 742.1,400.2 743.5,401.0C744.9,401.8 746.6,403.1 747.5,404.5C748.4,405.9 748.8,407.5 749.0,409.5C749.2,411.5 752.8,415.3 748.8,416.5C744.8,417.7 729.0,417.6 725.0,416.5Z"/><path d="M729.7,405.6C727.8,404.0 727.1,406.5 727.0,408.5C728.9,408.3 731.4,407.4 729.7,405.6Z"/><path d="M740.5,398.9C740.4,401.6 743.0,400.5 744.8,399.3C743.3,397.7 740.8,396.3 740.5,398.9Z"/><path d="M730.3,401.3C730.4,403.6 732.6,402.4 734.0,401.2C732.5,400.0 730.3,398.9 730.3,401.3Z"/><path d="M746.4,404.7C747.9,403.3 746.0,402.5 744.4,402.2C744.3,403.8 744.8,405.9 746.4,404.7Z"/><path d="M740.8,410.2C741.1,407.6 738.5,408.4 736.7,409.6C738.1,411.1 740.3,412.7 740.8,410.2Z"/><path d="M741.8,398.9C744.2,398.9 743.2,396.6 742.0,395.0C740.6,396.4 739.4,398.7 741.8,398.9Z"/><path d="M747.2,404.6C749.9,404.0 748.1,401.7 746.4,400.4C745.3,402.3 744.5,405.1 747.2,404.6Z"/><path d="M743.0,410.9C741.3,408.9 740.1,411.4 739.7,413.5C741.8,413.6 744.6,413.0 743.0,410.9Z"/><path d="M735.4,411.1C736.9,412.5 737.6,410.5 737.7,408.9C736.1,409.0 734.1,409.6 735.4,411.1Z"/><path d="M726.8,401.0C727.4,403.3 729.3,401.7 730.4,400.3C728.8,399.4 726.4,398.8 726.8,401.0Z"/><path d="M740.5,402.2C740.6,400.0 738.4,400.9 737.0,402.1C738.3,403.3 740.4,404.5 740.5,402.2Z"/><path d="M732.8,406.2C734.1,403.8 731.2,403.6 729.1,404.0C729.8,406.1 731.4,408.5 732.8,406.2Z"/><path d="M742.1,411.0C744.4,412.7 745.0,409.7 744.9,407.5C742.7,407.9 739.9,409.2 742.1,411.0Z"/><path d="M741.8,400.3C744.0,402.0 744.7,399.1 744.6,396.9C742.4,397.2 739.7,398.4 741.8,400.3Z"/><circle cx="734.5" cy="442.2" r="0.8"/><circle cx="734.5" cy="450.2" r="0.8"/><circle cx="734.5" cy="458.8" r="0.8"/><path d="M724.5,464.4L740.8,464.8L740.8,468.4L724.5,468.6Z"/><path d="M748.5,454L752.5,455.5L753.5,461L749,460.5Z"/><path d="M731.0,471.5 L764.0,471.2 L765.0,469.8 L766.0,470.3 L765.6,473.2 L731.0,473.8Z"/><path d="M712.0,477.0 L716.0,477.0 L715.0,480.5 L712.5,480.5Z"/><path d="M733.6,479.0 L737.6,479.0 L739.3,496.0 L735.3,496.5Z"/><path d="M696.0,537.1 L705.3,538.5 L704.6,547.8 L698.6,555.1 L691.3,553.0 L690.8,547.5 L693.3,542.5Z"/><path d="M753.2,537.8 L763.8,535.8 L766.5,545.1 L771.8,549.1 L771.0,553.5 L760.0,553.0 L755.8,549.1 L752.5,542.5Z"/></g>
<g fill="#fff"><ellipse cx="736.0" cy="409.3" rx="1.1" ry="0.6" transform="rotate(130 736.0 409.3)"/><ellipse cx="744.8" cy="404.5" rx="1.0" ry="0.6" transform="rotate(157 744.8 404.5)"/><ellipse cx="743.4" cy="403.2" rx="0.7" ry="0.4" transform="rotate(177 743.4 403.2)"/><ellipse cx="740.0" cy="409.7" rx="0.7" ry="0.6" transform="rotate(157 740.0 409.7)"/><ellipse cx="740.3" cy="410.1" rx="1.0" ry="0.4" transform="rotate(9 740.3 410.1)"/><ellipse cx="730.2" cy="405.1" rx="0.5" ry="0.6" transform="rotate(112 730.2 405.1)"/><ellipse cx="739.0" cy="404.5" rx="0.6" ry="0.5" transform="rotate(1 739.0 404.5)"/><ellipse cx="740.6" cy="407.9" rx="0.7" ry="0.8" transform="rotate(21 740.6 407.9)"/><ellipse cx="741.6" cy="406.1" rx="0.6" ry="0.5" transform="rotate(17 741.6 406.1)"/><ellipse cx="738.4" cy="403.4" rx="0.6" ry="0.5" transform="rotate(17 738.4 403.4)"/><ellipse cx="747.1" cy="413.0" rx="0.5" ry="0.5" transform="rotate(13 747.1 413.0)"/><ellipse cx="736.3" cy="414.7" rx="0.7" ry="0.4" transform="rotate(161 736.3 414.7)"/><ellipse cx="730.4" cy="410.8" rx="0.7" ry="0.5" transform="rotate(3 730.4 410.8)"/><ellipse cx="747.2" cy="411.9" rx="0.6" ry="0.5" transform="rotate(25 747.2 411.9)"/><ellipse cx="726.2" cy="408.0" rx="0.8" ry="0.7" transform="rotate(48 726.2 408.0)"/><ellipse cx="735.8" cy="404.5" rx="0.9" ry="0.5" transform="rotate(164 735.8 404.5)"/><ellipse cx="734.4" cy="407.1" rx="1.1" ry="0.4" transform="rotate(151 734.4 407.1)"/><ellipse cx="732.7" cy="413.5" rx="0.6" ry="0.6" transform="rotate(154 732.7 413.5)"/><ellipse cx="740.1" cy="403.3" rx="1.1" ry="0.5" transform="rotate(66 740.1 403.3)"/><ellipse cx="726.2" cy="409.9" rx="1.0" ry="0.6" transform="rotate(19 726.2 409.9)"/><ellipse cx="728.0" cy="409.6" rx="0.6" ry="0.6" transform="rotate(95 728.0 409.6)"/><ellipse cx="739.7" cy="403.7" rx="0.9" ry="0.7" transform="rotate(34 739.7 403.7)"/><ellipse cx="745.1" cy="404.4" rx="0.6" ry="0.8" transform="rotate(156 745.1 404.4)"/><ellipse cx="731.5" cy="404.5" rx="0.9" ry="0.8" transform="rotate(50 731.5 404.5)"/><ellipse cx="741.1" cy="407.0" rx="0.8" ry="0.4" transform="rotate(12 741.1 407.0)"/><ellipse cx="728.3" cy="402.5" rx="1.1" ry="0.5" transform="rotate(180 728.3 402.5)"/><ellipse cx="734.6" cy="407.5" rx="1.0" ry="0.6" transform="rotate(133 734.6 407.5)"/><ellipse cx="729.9" cy="411.4" rx="0.5" ry="0.5" transform="rotate(143 729.9 411.4)"/><ellipse cx="740.4" cy="410.0" rx="0.5" ry="0.5" transform="rotate(52 740.4 410.0)"/><ellipse cx="742.5" cy="402.9" rx="0.7" ry="0.5" transform="rotate(11 742.5 402.9)"/><ellipse cx="729.9" cy="406.8" rx="0.8" ry="0.5" transform="rotate(92 729.9 406.8)"/><ellipse cx="729.0" cy="407.9" rx="0.7" ry="0.7" transform="rotate(133 729.0 407.9)"/><ellipse cx="738.9" cy="403.8" rx="0.5" ry="0.4" transform="rotate(91 738.9 403.8)"/><ellipse cx="741.4" cy="414.5" rx="0.5" ry="0.7" transform="rotate(123 741.4 414.5)"/><ellipse cx="727.5" cy="406.0" rx="0.6" ry="0.4" transform="rotate(115 727.5 406.0)"/><ellipse cx="738.0" cy="411.6" rx="1.0" ry="0.7" transform="rotate(180 738.0 411.6)"/><ellipse cx="728.8" cy="414.5" rx="0.7" ry="0.4" transform="rotate(121 728.8 414.5)"/><ellipse cx="745.8" cy="413.3" rx="0.8" ry="0.7" transform="rotate(127 745.8 413.3)"/><ellipse cx="738.6" cy="410.1" rx="0.7" ry="0.6" transform="rotate(155 738.6 410.1)"/><ellipse cx="727.6" cy="403.2" rx="0.6" ry="0.5" transform="rotate(106 727.6 403.2)"/></g>
<!--/ILLU-->
</svg>
</body></html>
